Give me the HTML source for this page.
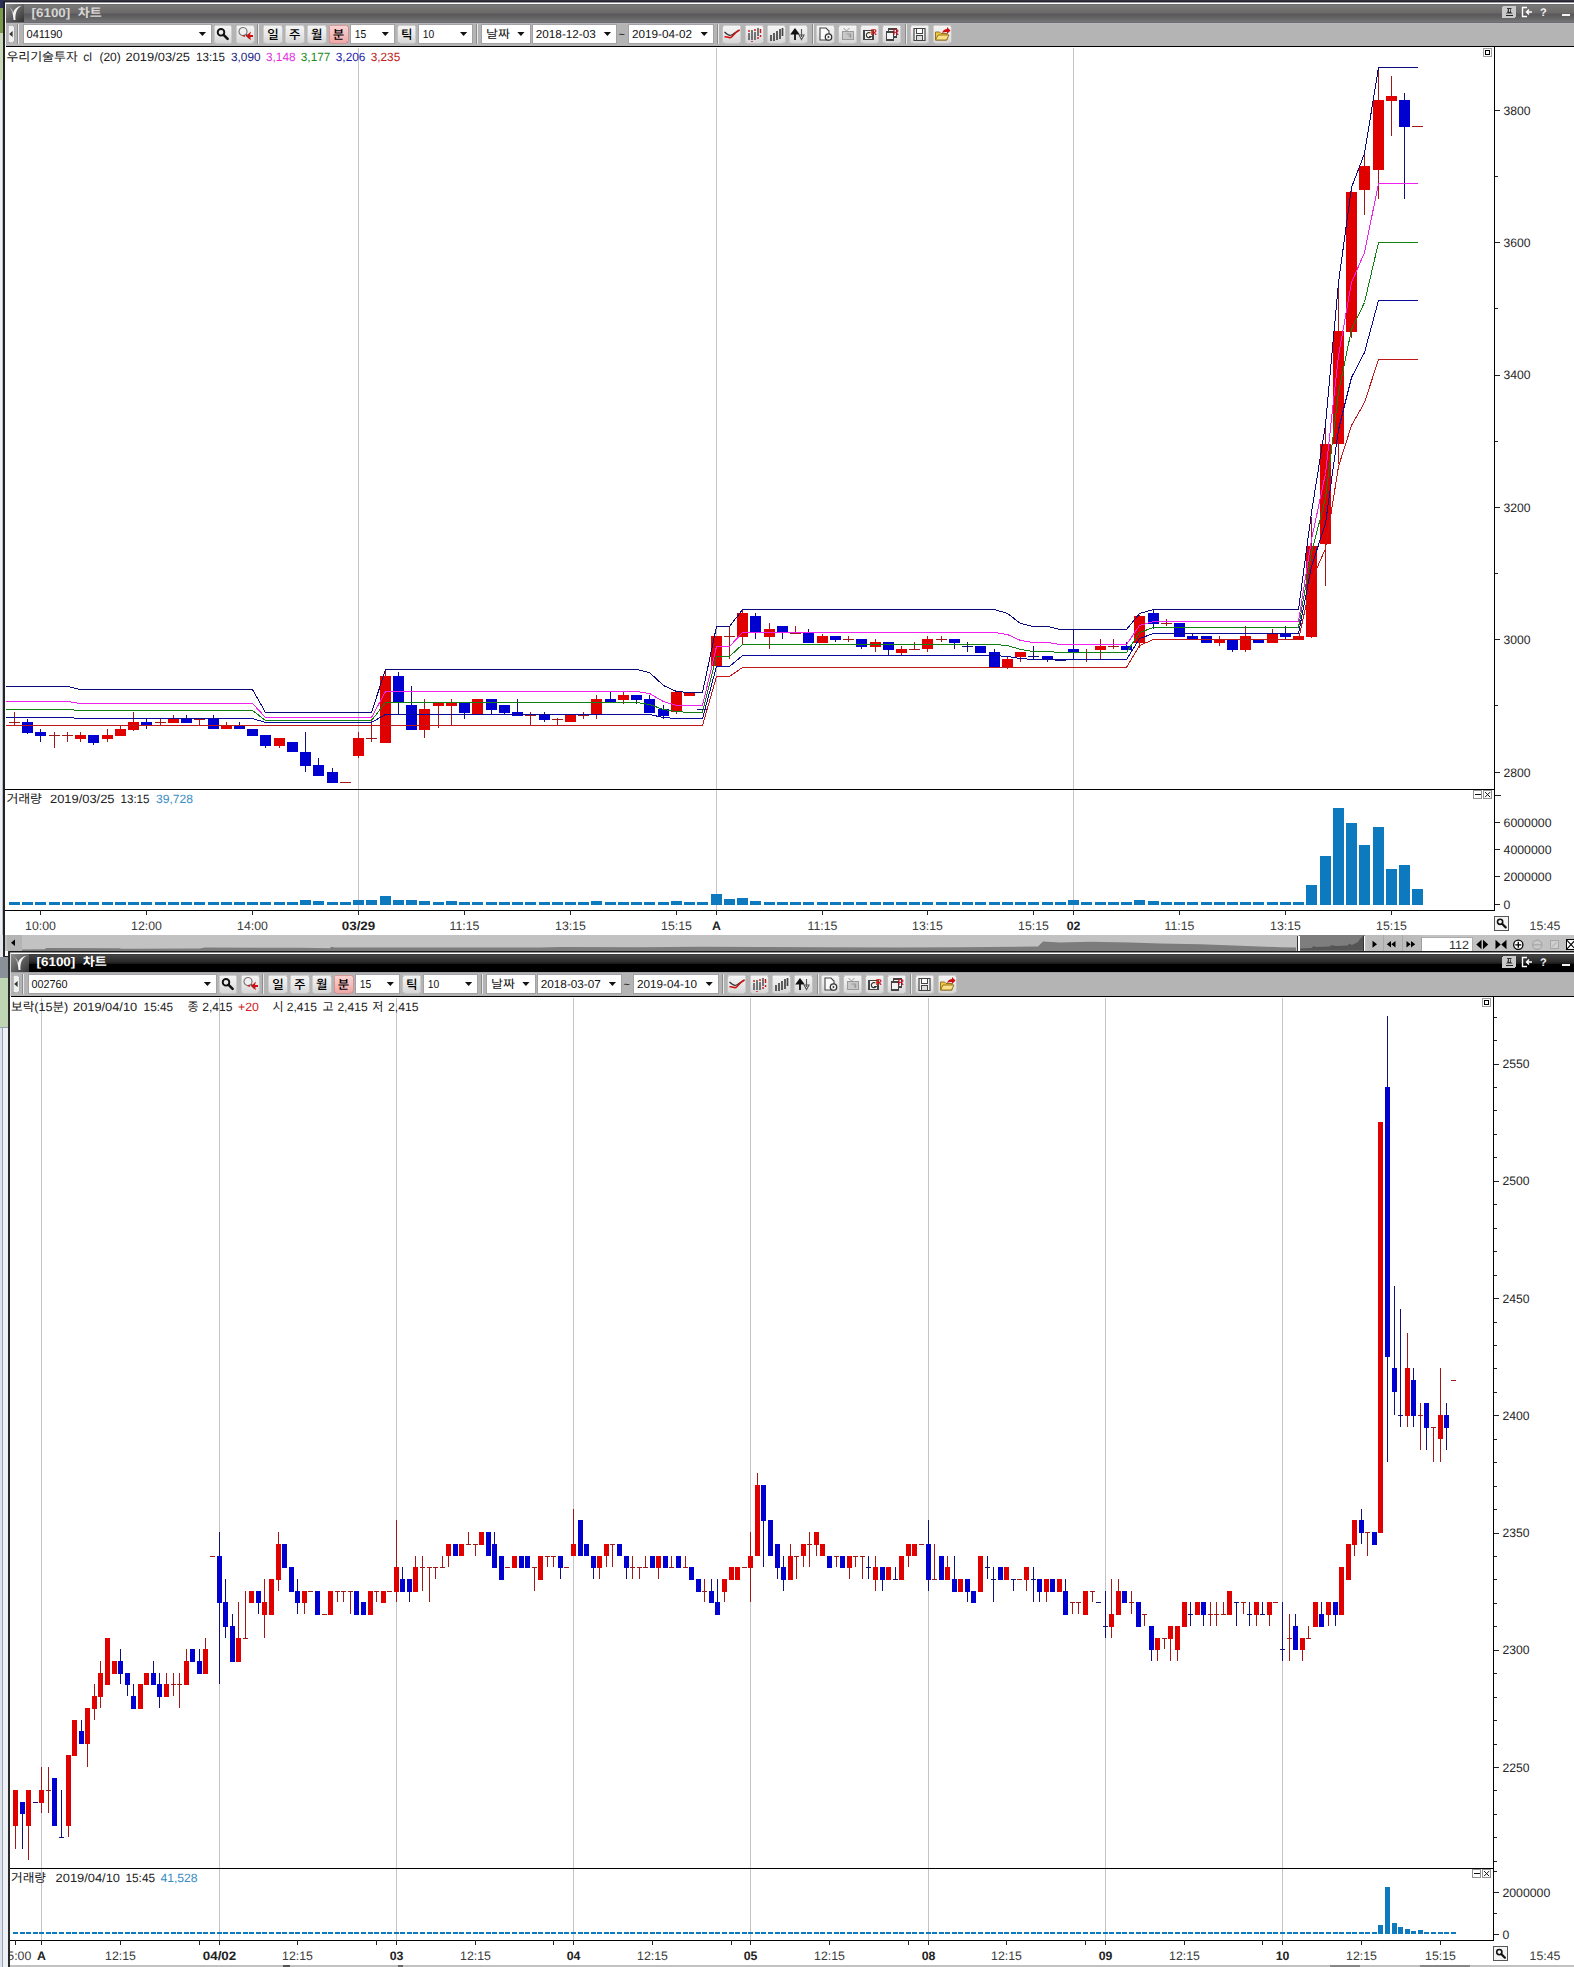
<!DOCTYPE html>
<html lang="ko"><head><meta charset="utf-8"><title>[6100] 차트</title>
<style>
html,body{margin:0;padding:0;background:#fff}
body{width:1574px;height:1967px;overflow:hidden}
svg{display:block}
.t{font-family:"Liberation Sans","Noto Sans CJK KR","NanumGothic",sans-serif}
.g{font-family:"Liberation Sans","Noto Sans CJK KR","NanumGothic",sans-serif}
path,circle{shape-rendering:geometricPrecision}
.e{shape-rendering:crispEdges}
</style></head><body>
<svg width="1574" height="1967" viewBox="0 0 1574 1967" font-size="12" shape-rendering="crispEdges" text-rendering="geometricPrecision">
<rect x="0.00" y="0.00" width="1574.00" height="1967.00" fill="#ffffff"/>
<rect x="0.00" y="0.00" width="1574.00" height="1.00" fill="#35353f"/>
<rect x="0.00" y="1.00" width="1574.00" height="1.00" fill="#23232b"/>
<rect x="0.00" y="2.00" width="1574.00" height="1.00" fill="#9c9ca2"/>
<rect x="0.00" y="3.00" width="1574.00" height="1.00" fill="#fff"/>
<rect x="0.00" y="0.00" width="3.00" height="8.00" fill="#2b2f5e"/>
<rect x="0.00" y="8.00" width="3.00" height="25.00" fill="#7a9a4a"/>
<rect x="0.00" y="33.00" width="3.00" height="47.00" fill="#c8d8b8"/>
<rect x="0.00" y="80.00" width="3.00" height="855.00" fill="#eef2f6"/>
<rect x="2.00" y="80.00" width="1.00" height="855.00" fill="#b4bcc8"/>
<rect x="0.00" y="935.00" width="3.00" height="22.00" fill="#e4e8ee"/>
<rect x="0.00" y="957.00" width="8.00" height="21.00" fill="#8a9098"/>
<rect x="0.00" y="978.00" width="8.00" height="50.00" fill="#bfd6b4"/>
<rect x="0.00" y="1028.00" width="8.00" height="939.00" fill="#eef2f6"/>
<rect x="0.00" y="1028.00" width="2.00" height="939.00" fill="#dde4ec"/>
<rect x="2.00" y="1028.00" width="1.00" height="939.00" fill="#98a2b0"/>
<rect x="0.00" y="1027.00" width="8.00" height="1.00" fill="#98a2b0"/>
<defs>
<linearGradient id="g1" x1="0" y1="0" x2="0" y2="1"><stop offset="0" stop-color="#6a6a6c"/><stop offset=".08" stop-color="#777"/><stop offset=".45" stop-color="#6c6a68"/><stop offset=".5" stop-color="#636163"/><stop offset=".55" stop-color="#5a585a"/><stop offset=".71" stop-color="#626262"/><stop offset=".92" stop-color="#747478"/><stop offset="1" stop-color="#66666c"/></linearGradient>
<linearGradient id="g2" x1="0" y1="0" x2="0" y2="1"><stop offset="0" stop-color="#3a3a3a"/><stop offset=".08" stop-color="#424242"/><stop offset=".2" stop-color="#3a3a3a"/><stop offset=".42" stop-color="#2a2a2a"/><stop offset=".52" stop-color="#1e1e1e"/><stop offset=".57" stop-color="#000"/><stop offset="1" stop-color="#000"/></linearGradient>
<linearGradient id="lg" x1="0" y1="0" x2="1" y2="1"><stop offset="0" stop-color="#8e8e8e"/><stop offset="1" stop-color="#333"/></linearGradient>
<linearGradient id="bt" x1="0" y1="0" x2="0" y2="1"><stop offset="0" stop-color="#f6f6f6"/><stop offset=".5" stop-color="#e9e9e9"/><stop offset="1" stop-color="#d6d6d6"/></linearGradient>
<linearGradient id="pk" x1="0" y1="0" x2="0" y2="1"><stop offset="0" stop-color="#fbd5d5"/><stop offset="1" stop-color="#f0a6a6"/></linearGradient>
</defs>
<rect x="3.00" y="2.00" width="2.00" height="955.00" fill="#222"/>
<rect x="5.00" y="4.00" width="1.00" height="43.00" fill="#f4f4f4"/>
<rect x="3.00" y="956.00" width="6.00" height="1.00" fill="#222"/>
<rect x="6.00" y="4.00" width="1568.00" height="19.00" fill="url(#g1)"/>
<g transform="translate(6,4)"><rect width="18" height="18" fill="url(#lg)"/><path d="M2 3 C5 3 7 8 7.5 16 L9.5 16 C9 9 11 4 16 1.5 C11 2.5 8 5 7 9 C6.5 6 5 3.5 2 3Z" fill="#fff" opacity=".92"/></g>
<text class="t" x="31.5" y="17.0" fill="#d6d6d6" font-size="12.6" font-weight="bold" textLength="38.8" lengthAdjust="spacingAndGlyphs">[6100]</text>
<text class="t" x="77.7" y="17.0" fill="#d6d6d6" font-size="12.4" font-weight="bold" textLength="24.0" lengthAdjust="spacingAndGlyphs">차트</text>
<rect x="1502.00" y="6.00" width="14.00" height="12.00" fill="#c9c9c9" rx="2"/>
<path d="M1507 8h4.5v1h-1l.6 3.2l1.6 1.3h-6.9l1.6-1.3l.6-3.2h-1z" fill="#333"/><rect x="1508.6" y="9" width="1.3" height="3" fill="#c9c9c9"/><rect x="1505.5" y="15" width="7.5" height="1" fill="#222"/>
<path d="M1527 7.5h-4.5v9h4.5M1532 12h-5M1529 9.5l-2.5 2.5l2.5 2.5" stroke="#fff" stroke-width="1.4" fill="none"/>
<text class="t" x="1540.0" y="16.0" fill="#f4f4f4" font-size="11" font-weight="bold">?</text>
<rect x="1562.00" y="13.70" width="8.00" height="2.30" fill="#f4f4f4"/>
<rect x="6.00" y="23.00" width="1568.00" height="23.50" fill="#b4b4b4"/>
<rect x="6.00" y="23.00" width="1568.00" height="1.00" fill="#b9b9bb"/>
<rect x="6.00" y="46.00" width="1568.00" height="1.00" fill="#000"/>
<rect x="8.0" y="25" width="6" height="17.5" rx="1.5" fill="#f0f0f0" stroke="#9c9ca4" stroke-width=".6"/>
<path d="M12.6 31v6l-3.4-3z" fill="#333"/>
<rect x="18.30" y="24.00" width="1.00" height="20.00" fill="#e8e8e8"/>
<rect x="17.30" y="24.00" width="1.00" height="20.00" fill="#8c8c8c"/>
<rect x="23.00" y="24.00" width="189.00" height="19.60" fill="#a2a2a6"/>
<rect x="24.00" y="25.00" width="187.00" height="18.00" fill="#fff"/>
<text class="g" x="26.5" y="38.3" fill="#111" font-size="11.5" textLength="36.0" lengthAdjust="spacingAndGlyphs">041190</text>
<path d="M198.8 32.1h7.2l-3.6 4z" fill="#111"/>
<rect x="214.0" y="25" width="17.5" height="18" rx="2" fill="url(#bt)" stroke="#c4c4c4" stroke-width=".8"/>
<g transform="translate(214,25)"><circle cx="7" cy="7.3" r="3.3" fill="none" stroke="#111" stroke-width="1.9"/><path d="M9.6 9.9l4 4" stroke="#111" stroke-width="2.6" stroke-linecap="round"/></g>
<rect x="236.0" y="25" width="18.0" height="18" rx="2" fill="url(#bt)" stroke="#c4c4c4" stroke-width=".8"/>
<g transform="translate(236,25)"><circle cx="7" cy="6.5" r="4" fill="#f0f0f0" stroke="#777" stroke-width="1.2"/><path d="M10 9.5l4 4" stroke="#555" stroke-width="2"/><path d="M15 6.5l-5 4.5l5 4.2l-1-3.2h3v-2h-3z" fill="#d01010"/><path d="M9 12l-3-1 2.5-1.5z" fill="#d01010"/></g>
<rect x="257.00" y="24.00" width="1.00" height="20.00" fill="#8c8c8c"/>
<rect x="258.30" y="24.00" width="1.00" height="20.00" fill="#e8e8e8"/>
<rect x="263.4" y="25" width="19.0" height="18" rx="2" fill="url(#bt)" stroke="#c4c4c4" stroke-width=".8"/>
<text class="g" x="272.9" y="38.8" fill="#000" font-size="12.5" font-weight="500" text-anchor="middle">일</text>
<rect x="285.3" y="25" width="19.0" height="18" rx="2" fill="url(#bt)" stroke="#c4c4c4" stroke-width=".8"/>
<text class="g" x="294.8" y="38.8" fill="#000" font-size="12.5" font-weight="500" text-anchor="middle">주</text>
<rect x="307.2" y="25" width="19.0" height="18" rx="2" fill="url(#bt)" stroke="#c4c4c4" stroke-width=".8"/>
<text class="g" x="316.7" y="38.8" fill="#000" font-size="12.5" font-weight="500" text-anchor="middle">월</text>
<rect x="329.1" y="25" width="19.0" height="18" rx="2" fill="url(#pk)" stroke="#d08a8a" stroke-width=".8"/>
<text class="g" x="338.6" y="38.8" fill="#000" font-size="12.5" font-weight="500" text-anchor="middle">분</text>
<rect x="349.70" y="24.00" width="45.20" height="19.60" fill="#a2a2a6"/>
<rect x="350.70" y="25.00" width="43.20" height="18.00" fill="#fff"/>
<text class="g" x="354.7" y="38.3" fill="#111" font-size="11.5" textLength="11.5" lengthAdjust="spacingAndGlyphs">15</text>
<path d="M381.7 32.1h7.2l-3.6 4z" fill="#111"/>
<rect x="397.7" y="25" width="18.2" height="18" rx="2" fill="url(#bt)" stroke="#c4c4c4" stroke-width=".8"/>
<text class="g" x="406.8" y="38.8" fill="#000" font-size="12.5" font-weight="500" text-anchor="middle">틱</text>
<rect x="417.70" y="24.00" width="55.50" height="19.60" fill="#a2a2a6"/>
<rect x="418.70" y="25.00" width="53.50" height="18.00" fill="#fff"/>
<text class="g" x="422.7" y="38.3" fill="#111" font-size="11.5" textLength="11.5" lengthAdjust="spacingAndGlyphs">10</text>
<path d="M460.0 32.1h7.2l-3.6 4z" fill="#111"/>
<rect x="475.50" y="24.00" width="1.00" height="20.00" fill="#8c8c8c"/>
<rect x="476.80" y="24.00" width="1.00" height="20.00" fill="#e8e8e8"/>
<rect x="481.00" y="24.00" width="49.50" height="19.60" fill="#a2a2a6"/>
<rect x="482.00" y="25.00" width="47.50" height="18.00" fill="#fff"/>
<text class="g" x="486.0" y="38.3" fill="#111" font-size="11.5" textLength="24.0" lengthAdjust="spacingAndGlyphs">날짜</text>
<path d="M517.3 32.1h7.2l-3.6 4z" fill="#111"/>
<rect x="531.80" y="24.00" width="85.20" height="19.60" fill="#a2a2a6"/>
<rect x="532.80" y="25.00" width="83.20" height="18.00" fill="#fff"/>
<text class="g" x="535.8" y="38.3" fill="#111" font-size="11.5" textLength="60.0" lengthAdjust="spacingAndGlyphs">2018-12-03</text>
<path d="M603.8 32.1h7.2l-3.6 4z" fill="#111"/>
<text class="g" x="618.5" y="38.0" fill="#222" font-size="11">~</text>
<rect x="628.00" y="24.00" width="85.80" height="19.60" fill="#a2a2a6"/>
<rect x="629.00" y="25.00" width="83.80" height="18.00" fill="#fff"/>
<text class="g" x="632.0" y="38.3" fill="#111" font-size="11.5" textLength="60.0" lengthAdjust="spacingAndGlyphs">2019-04-02</text>
<path d="M700.6 32.1h7.2l-3.6 4z" fill="#111"/>
<rect x="717.00" y="24.00" width="1.00" height="20.00" fill="#8c8c8c"/>
<rect x="718.30" y="24.00" width="1.00" height="20.00" fill="#e8e8e8"/>
<rect x="722.5" y="25" width="18.2" height="18" rx="2" fill="url(#bt)" stroke="#c4c4c4" stroke-width=".8"/>
<g transform="translate(722.5,25)"><path d="M2 7c3 3 5 4 7 3s5-4 8-5" stroke="#333" stroke-width="1.2" fill="none"/><path d="M2 12c3-1 5 2 7 0s4-5 8-7" stroke="#d01010" stroke-width="1.6" fill="none"/></g>
<rect x="745.0" y="25" width="18.2" height="18" rx="2" fill="url(#bt)" stroke="#c4c4c4" stroke-width=".8"/>
<g transform="translate(745.0,25)"><path d="M4 8v7M7 5v10M10 7v8M13 3v8" stroke="#444" stroke-width="1.4"/><path d="M4 5v2M7 16v1M10 4v2M13 12v2M15.5 4v4M15.5 10v2" stroke="#d01010" stroke-width="1.4"/></g>
<rect x="767.0" y="25" width="18.2" height="18" rx="2" fill="url(#bt)" stroke="#c4c4c4" stroke-width=".8"/>
<g transform="translate(767.0,25)"><path d="M4 10v6M7 8v8M10 6v9M13 4v10M15.5 3v8" stroke="#444" stroke-width="1.7"/></g>
<rect x="789.0" y="25" width="18.2" height="18" rx="2" fill="url(#bt)" stroke="#c4c4c4" stroke-width=".8"/>
<g transform="translate(789.0,25)"><path d="M6 15V6M3 8.5L6 4.5 9 8.5z" stroke="#111" stroke-width="1.8" fill="#111"/><path d="M12.5 4v8M10 10l2.5 4.5L15 10z" stroke="#555" stroke-width="1.1" fill="#eee"/></g>
<rect x="816.0" y="25" width="18.2" height="18" rx="2" fill="url(#bt)" stroke="#c4c4c4" stroke-width=".8"/>
<g transform="translate(816.0,25)"><path d="M4 3h6l3 3v9H4z" fill="#fafafa" stroke="#444" stroke-width="1.1"/><circle cx="12.5" cy="12" r="3.2" fill="#fafafa" stroke="#333" stroke-width="1.3"/><path d="M11.7 10.6v2.8l2.2-1.4z" fill="#333"/></g>
<rect x="838.5" y="25" width="18.2" height="18" rx="2" fill="url(#bt)" stroke="#c4c4c4" stroke-width=".8"/>
<g transform="translate(838.5,25)"><path d="M5 3l3 3 3-3" stroke="#9a9a9a" fill="none"/><rect x="3.5" y="6" width="11" height="8" fill="#c8c8c8" stroke="#9a9a9a"/><path d="M8 9h4v4M10 11h3" stroke="#999" stroke-width="1.2" fill="none"/></g>
<rect x="860.5" y="25" width="18.2" height="18" rx="2" fill="url(#bt)" stroke="#c4c4c4" stroke-width=".8"/>
<g transform="translate(860.5,25)"><rect x="3.5" y="5.5" width="9" height="9" fill="#f4f4f4" stroke="#444" stroke-width="1.1"/><path d="M10 8a2.6 2.6 0 1 0 .6 3.6h-2" stroke="#333" stroke-width="1.2" fill="none"/><text x="10.2" y="9.8" font-size="8.5" font-weight="bold" fill="#d01010" class="t">R</text></g>
<rect x="882.6" y="25" width="18.2" height="18" rx="2" fill="url(#bt)" stroke="#c4c4c4" stroke-width=".8"/>
<g transform="translate(882.6,25)"><rect x="6" y="4" width="7.5" height="8" fill="#f4f4f4" stroke="#444" stroke-width="1.1"/><rect x="3.5" y="7" width="7.5" height="8" fill="#f4f4f4" stroke="#444" stroke-width="1.1"/><text x="10.2" y="9.8" font-size="8.5" font-weight="bold" fill="#d01010" class="t">R</text></g>
<rect x="910.5" y="25" width="18.2" height="18" rx="2" fill="url(#bt)" stroke="#c4c4c4" stroke-width=".8"/>
<g transform="translate(910.5,25)"><path d="M3.5 3.5h11v12h-11z" fill="#f4f4f4" stroke="#444" stroke-width="1.2"/><rect x="6" y="3.5" width="6" height="4.5" fill="#fff" stroke="#444" stroke-width="1"/><rect x="6" y="10.5" width="6" height="5" fill="#ddd" stroke="#444" stroke-width="1"/></g>
<rect x="933.0" y="25" width="18.2" height="18" rx="2" fill="url(#bt)" stroke="#c4c4c4" stroke-width=".8"/>
<g transform="translate(933.0,25)"><path d="M2.5 15V7h4l1.5 1.5h6V15z" fill="#f2c744" stroke="#8a6a10" stroke-width=".9"/><path d="M2.5 15l2.5-5h11l-2.5 5z" fill="#fbe08a" stroke="#8a6a10" stroke-width=".9"/><path d="M9 8c1-3 3-4 5-4V2l3.5 3.5L14 9V7c-2 0-3.5 0-5 1z" fill="#d01010"/></g>
<rect x="811.60" y="24.00" width="1.00" height="20.00" fill="#8c8c8c"/>
<rect x="812.90" y="24.00" width="1.00" height="20.00" fill="#e8e8e8"/>
<rect x="905.00" y="24.00" width="1.00" height="20.00" fill="#8c8c8c"/>
<rect x="906.30" y="24.00" width="1.00" height="20.00" fill="#e8e8e8"/>
<line x1="358.50" y1="47.50" x2="358.50" y2="910.00" stroke="#c4c4c4" stroke-width="1"/>
<line x1="716.50" y1="47.50" x2="716.50" y2="910.00" stroke="#c4c4c4" stroke-width="1"/>
<line x1="1073.50" y1="47.50" x2="1073.50" y2="910.00" stroke="#c4c4c4" stroke-width="1"/>
<rect x="4.50" y="789.00" width="1490.00" height="1.20" fill="#000"/>
<rect x="4.50" y="909.50" width="1490.60" height="1.30" fill="#000"/>
<rect x="1493.90" y="46.00" width="1.30" height="864.80" fill="#000"/>
<rect x="14.00" y="712.40" width="1.00" height="12.60" fill="#a01818"/>
<rect x="9.00" y="722.00" width="11.00" height="1.00" fill="#a01818"/>
<rect x="27.00" y="719.00" width="1.00" height="15.40" fill="#101078"/>
<rect x="22.00" y="722.00" width="11.00" height="10.60" fill="#0000d0"/>
<rect x="40.00" y="729.00" width="1.00" height="12.60" fill="#101078"/>
<rect x="35.00" y="732.00" width="11.00" height="3.60" fill="#0000d0"/>
<rect x="54.00" y="732.40" width="1.00" height="15.20" fill="#a01818"/>
<rect x="49.00" y="735.00" width="11.00" height="1.00" fill="#a01818"/>
<rect x="67.00" y="732.00" width="1.00" height="9.60" fill="#a01818"/>
<rect x="62.00" y="735.00" width="11.00" height="1.00" fill="#a01818"/>
<rect x="80.00" y="732.40" width="1.00" height="9.20" fill="#a01818"/>
<rect x="75.00" y="735.40" width="11.00" height="3.20" fill="#e00000"/>
<rect x="93.00" y="735.40" width="1.00" height="9.20" fill="#101078"/>
<rect x="88.00" y="735.40" width="11.00" height="7.20" fill="#0000d0"/>
<rect x="107.00" y="729.40" width="1.00" height="12.20" fill="#a01818"/>
<rect x="102.00" y="735.40" width="11.00" height="3.20" fill="#e00000"/>
<rect x="120.00" y="726.00" width="1.00" height="9.60" fill="#a01818"/>
<rect x="115.00" y="729.20" width="11.00" height="6.40" fill="#e00000"/>
<rect x="133.00" y="712.00" width="1.00" height="19.40" fill="#a01818"/>
<rect x="128.00" y="722.20" width="11.00" height="7.40" fill="#e00000"/>
<rect x="146.00" y="719.00" width="1.00" height="9.60" fill="#101078"/>
<rect x="141.00" y="722.20" width="11.00" height="3.00" fill="#0000d0"/>
<rect x="160.00" y="719.00" width="1.00" height="6.00" fill="#a01818"/>
<rect x="155.00" y="722.00" width="11.00" height="1.00" fill="#a01818"/>
<rect x="173.00" y="715.40" width="1.00" height="7.20" fill="#a01818"/>
<rect x="168.00" y="718.80" width="11.00" height="3.80" fill="#e00000"/>
<rect x="186.00" y="715.20" width="1.00" height="7.40" fill="#101078"/>
<rect x="181.00" y="718.80" width="11.00" height="3.80" fill="#0000d0"/>
<rect x="199.00" y="719.00" width="1.00" height="6.20" fill="#a01818"/>
<rect x="194.00" y="719.00" width="11.00" height="1.00" fill="#a01818"/>
<rect x="213.00" y="715.20" width="1.00" height="14.20" fill="#101078"/>
<rect x="208.00" y="718.80" width="11.00" height="10.60" fill="#0000d0"/>
<rect x="226.00" y="722.20" width="1.00" height="7.20" fill="#a01818"/>
<rect x="221.00" y="725.60" width="11.00" height="3.80" fill="#e00000"/>
<rect x="239.00" y="722.20" width="1.00" height="7.20" fill="#101078"/>
<rect x="234.00" y="725.60" width="11.00" height="3.80" fill="#0000d0"/>
<rect x="252.00" y="729.20" width="1.00" height="6.40" fill="#101078"/>
<rect x="247.00" y="729.20" width="11.00" height="6.40" fill="#0000d0"/>
<rect x="265.00" y="735.20" width="1.00" height="12.40" fill="#101078"/>
<rect x="260.00" y="735.20" width="11.00" height="10.40" fill="#0000d0"/>
<rect x="279.00" y="738.40" width="1.00" height="9.20" fill="#a01818"/>
<rect x="274.00" y="738.40" width="11.00" height="7.20" fill="#e00000"/>
<rect x="292.00" y="742.20" width="1.00" height="10.20" fill="#101078"/>
<rect x="287.00" y="742.20" width="11.00" height="10.20" fill="#0000d0"/>
<rect x="305.00" y="732.00" width="1.00" height="39.60" fill="#101078"/>
<rect x="300.00" y="752.20" width="11.00" height="13.40" fill="#0000d0"/>
<rect x="318.00" y="758.40" width="1.00" height="17.20" fill="#101078"/>
<rect x="313.00" y="765.00" width="11.00" height="10.60" fill="#0000d0"/>
<rect x="332.00" y="768.00" width="1.00" height="14.60" fill="#101078"/>
<rect x="327.00" y="772.00" width="11.00" height="10.60" fill="#0000d0"/>
<rect x="340.00" y="782.00" width="11.00" height="1.00" fill="#a01818"/>
<rect x="358.00" y="731.60" width="1.00" height="26.40" fill="#a01818"/>
<rect x="353.00" y="738.00" width="11.00" height="17.60" fill="#e00000"/>
<rect x="371.00" y="719.00" width="1.00" height="22.60" fill="#a01818"/>
<rect x="366.00" y="738.00" width="11.00" height="1.00" fill="#a01818"/>
<rect x="385.00" y="670.00" width="1.00" height="72.60" fill="#a01818"/>
<rect x="380.00" y="676.00" width="11.00" height="66.60" fill="#e00000"/>
<rect x="398.00" y="672.00" width="1.00" height="42.00" fill="#101078"/>
<rect x="393.00" y="676.00" width="11.00" height="27.00" fill="#0000d0"/>
<rect x="411.00" y="686.00" width="1.00" height="43.60" fill="#101078"/>
<rect x="406.00" y="705.00" width="11.00" height="24.60" fill="#0000d0"/>
<rect x="424.00" y="699.00" width="1.00" height="38.60" fill="#a01818"/>
<rect x="419.00" y="709.00" width="11.00" height="20.60" fill="#e00000"/>
<rect x="438.00" y="702.40" width="1.00" height="26.00" fill="#a01818"/>
<rect x="433.00" y="702.40" width="11.00" height="3.20" fill="#e00000"/>
<rect x="451.00" y="699.00" width="1.00" height="26.60" fill="#a01818"/>
<rect x="446.00" y="702.40" width="11.00" height="3.20" fill="#e00000"/>
<rect x="464.00" y="702.40" width="1.00" height="16.20" fill="#101078"/>
<rect x="459.00" y="702.40" width="11.00" height="10.20" fill="#0000d0"/>
<rect x="477.00" y="699.00" width="1.00" height="16.20" fill="#a01818"/>
<rect x="472.00" y="699.00" width="11.00" height="16.20" fill="#e00000"/>
<rect x="491.00" y="699.00" width="1.00" height="15.00" fill="#101078"/>
<rect x="486.00" y="699.00" width="11.00" height="10.60" fill="#0000d0"/>
<rect x="504.00" y="705.40" width="1.00" height="8.60" fill="#101078"/>
<rect x="499.00" y="705.40" width="11.00" height="7.20" fill="#0000d0"/>
<rect x="517.00" y="699.00" width="1.00" height="16.60" fill="#101078"/>
<rect x="512.00" y="712.20" width="11.00" height="3.40" fill="#0000d0"/>
<rect x="530.00" y="712.20" width="1.00" height="13.40" fill="#a01818"/>
<rect x="525.00" y="715.00" width="11.00" height="1.00" fill="#a01818"/>
<rect x="544.00" y="712.20" width="1.00" height="9.40" fill="#101078"/>
<rect x="539.00" y="714.40" width="11.00" height="5.20" fill="#0000d0"/>
<rect x="557.00" y="718.00" width="1.00" height="7.60" fill="#a01818"/>
<rect x="552.00" y="719.00" width="11.00" height="1.00" fill="#a01818"/>
<rect x="570.00" y="715.20" width="1.00" height="7.20" fill="#a01818"/>
<rect x="565.00" y="715.20" width="11.00" height="7.20" fill="#e00000"/>
<rect x="583.00" y="712.20" width="1.00" height="6.40" fill="#a01818"/>
<rect x="578.00" y="715.00" width="11.00" height="1.00" fill="#a01818"/>
<rect x="596.00" y="695.00" width="1.00" height="23.60" fill="#a01818"/>
<rect x="591.00" y="699.00" width="11.00" height="16.20" fill="#e00000"/>
<rect x="610.00" y="691.60" width="1.00" height="11.40" fill="#101078"/>
<rect x="605.00" y="699.00" width="11.00" height="4.00" fill="#0000d0"/>
<rect x="623.00" y="692.00" width="1.00" height="12.40" fill="#a01818"/>
<rect x="618.00" y="695.40" width="11.00" height="4.20" fill="#e00000"/>
<rect x="636.00" y="695.40" width="1.00" height="9.00" fill="#101078"/>
<rect x="631.00" y="695.40" width="11.00" height="4.20" fill="#0000d0"/>
<rect x="649.00" y="695.40" width="1.00" height="17.20" fill="#101078"/>
<rect x="644.00" y="699.00" width="11.00" height="13.60" fill="#0000d0"/>
<rect x="663.00" y="705.00" width="1.00" height="13.60" fill="#101078"/>
<rect x="658.00" y="709.40" width="11.00" height="6.60" fill="#0000d0"/>
<rect x="676.00" y="692.40" width="1.00" height="22.00" fill="#a01818"/>
<rect x="671.00" y="692.40" width="11.00" height="19.60" fill="#e00000"/>
<rect x="689.00" y="693.00" width="1.00" height="2.60" fill="#a01818"/>
<rect x="684.00" y="693.00" width="11.00" height="2.60" fill="#e00000"/>
<rect x="697.00" y="709.00" width="11.00" height="1.00" fill="#101078"/>
<rect x="716.00" y="636.40" width="1.00" height="30.00" fill="#a01818"/>
<rect x="711.00" y="636.40" width="11.00" height="30.00" fill="#e00000"/>
<rect x="729.00" y="627.00" width="1.00" height="31.60" fill="#a01818"/>
<rect x="724.00" y="636.00" width="11.00" height="1.00" fill="#a01818"/>
<rect x="742.00" y="610.00" width="1.00" height="34.40" fill="#a01818"/>
<rect x="737.00" y="613.00" width="11.00" height="23.60" fill="#e00000"/>
<rect x="755.00" y="613.00" width="1.00" height="26.00" fill="#101078"/>
<rect x="750.00" y="616.00" width="11.00" height="17.00" fill="#0000d0"/>
<rect x="769.00" y="623.00" width="1.00" height="26.00" fill="#a01818"/>
<rect x="764.00" y="629.00" width="11.00" height="7.60" fill="#e00000"/>
<rect x="782.00" y="626.00" width="1.00" height="13.00" fill="#101078"/>
<rect x="777.00" y="626.00" width="11.00" height="7.00" fill="#0000d0"/>
<rect x="795.00" y="626.00" width="1.00" height="7.00" fill="#a01818"/>
<rect x="790.00" y="633.00" width="11.00" height="1.00" fill="#a01818"/>
<rect x="808.00" y="629.00" width="1.00" height="13.60" fill="#101078"/>
<rect x="803.00" y="633.00" width="11.00" height="9.60" fill="#0000d0"/>
<rect x="822.00" y="633.60" width="1.00" height="9.00" fill="#a01818"/>
<rect x="817.00" y="636.00" width="11.00" height="6.60" fill="#e00000"/>
<rect x="835.00" y="636.00" width="1.00" height="5.60" fill="#101078"/>
<rect x="830.00" y="636.00" width="11.00" height="3.60" fill="#0000d0"/>
<rect x="848.00" y="636.00" width="1.00" height="5.60" fill="#a01818"/>
<rect x="843.00" y="639.00" width="11.00" height="1.00" fill="#a01818"/>
<rect x="861.00" y="639.00" width="1.00" height="9.60" fill="#101078"/>
<rect x="856.00" y="639.00" width="11.00" height="7.60" fill="#0000d0"/>
<rect x="875.00" y="639.00" width="1.00" height="12.60" fill="#a01818"/>
<rect x="870.00" y="642.40" width="11.00" height="4.20" fill="#e00000"/>
<rect x="888.00" y="642.40" width="1.00" height="13.60" fill="#101078"/>
<rect x="883.00" y="642.40" width="11.00" height="7.20" fill="#0000d0"/>
<rect x="901.00" y="646.00" width="1.00" height="10.00" fill="#a01818"/>
<rect x="896.00" y="649.40" width="11.00" height="3.20" fill="#e00000"/>
<rect x="914.00" y="642.40" width="1.00" height="7.00" fill="#a01818"/>
<rect x="909.00" y="649.00" width="11.00" height="1.00" fill="#a01818"/>
<rect x="927.00" y="636.00" width="1.00" height="15.60" fill="#a01818"/>
<rect x="922.00" y="639.40" width="11.00" height="10.00" fill="#e00000"/>
<rect x="941.00" y="636.00" width="1.00" height="6.00" fill="#a01818"/>
<rect x="936.00" y="639.00" width="11.00" height="1.00" fill="#a01818"/>
<rect x="954.00" y="639.40" width="1.00" height="9.20" fill="#101078"/>
<rect x="949.00" y="639.40" width="11.00" height="3.20" fill="#0000d0"/>
<rect x="967.00" y="642.40" width="1.00" height="9.20" fill="#101078"/>
<rect x="962.00" y="646.00" width="11.00" height="1.00" fill="#101078"/>
<rect x="980.00" y="646.00" width="1.00" height="6.60" fill="#101078"/>
<rect x="975.00" y="646.00" width="11.00" height="6.60" fill="#0000d0"/>
<rect x="994.00" y="649.40" width="1.00" height="17.60" fill="#101078"/>
<rect x="989.00" y="652.00" width="11.00" height="15.00" fill="#0000d0"/>
<rect x="1007.00" y="656.40" width="1.00" height="12.60" fill="#a01818"/>
<rect x="1002.00" y="659.40" width="11.00" height="8.00" fill="#e00000"/>
<rect x="1020.00" y="652.00" width="1.00" height="9.60" fill="#a01818"/>
<rect x="1015.00" y="652.00" width="11.00" height="4.60" fill="#e00000"/>
<rect x="1033.00" y="646.00" width="1.00" height="13.40" fill="#101078"/>
<rect x="1028.00" y="656.00" width="11.00" height="1.00" fill="#101078"/>
<rect x="1047.00" y="656.40" width="1.00" height="5.20" fill="#101078"/>
<rect x="1042.00" y="656.40" width="11.00" height="3.00" fill="#0000d0"/>
<rect x="1055.00" y="660.00" width="11.00" height="1.00" fill="#101078"/>
<rect x="1073.00" y="629.40" width="1.00" height="30.00" fill="#101078"/>
<rect x="1068.00" y="649.40" width="11.00" height="2.60" fill="#0000d0"/>
<rect x="1086.00" y="649.40" width="1.00" height="12.20" fill="#a01818"/>
<rect x="1081.00" y="652.00" width="11.00" height="1.00" fill="#a01818"/>
<rect x="1100.00" y="639.00" width="1.00" height="19.60" fill="#a01818"/>
<rect x="1095.00" y="646.00" width="11.00" height="3.60" fill="#e00000"/>
<rect x="1113.00" y="639.00" width="1.00" height="9.60" fill="#a01818"/>
<rect x="1108.00" y="646.00" width="11.00" height="1.00" fill="#a01818"/>
<rect x="1126.00" y="642.40" width="1.00" height="7.20" fill="#101078"/>
<rect x="1121.00" y="646.00" width="11.00" height="3.60" fill="#0000d0"/>
<rect x="1139.00" y="615.00" width="1.00" height="33.40" fill="#a01818"/>
<rect x="1134.00" y="616.40" width="11.00" height="26.20" fill="#e00000"/>
<rect x="1153.00" y="609.40" width="1.00" height="19.20" fill="#101078"/>
<rect x="1148.00" y="613.00" width="11.00" height="10.60" fill="#0000d0"/>
<rect x="1166.00" y="619.00" width="1.00" height="6.60" fill="#a01818"/>
<rect x="1161.00" y="623.00" width="11.00" height="1.00" fill="#a01818"/>
<rect x="1179.00" y="623.00" width="1.00" height="13.60" fill="#101078"/>
<rect x="1174.00" y="623.00" width="11.00" height="13.60" fill="#0000d0"/>
<rect x="1192.00" y="633.60" width="1.00" height="5.40" fill="#101078"/>
<rect x="1187.00" y="636.00" width="11.00" height="3.00" fill="#0000d0"/>
<rect x="1206.00" y="636.00" width="1.00" height="6.60" fill="#101078"/>
<rect x="1201.00" y="636.00" width="11.00" height="6.60" fill="#0000d0"/>
<rect x="1219.00" y="636.00" width="1.00" height="9.60" fill="#a01818"/>
<rect x="1214.00" y="639.40" width="11.00" height="3.20" fill="#e00000"/>
<rect x="1232.00" y="640.00" width="1.00" height="11.60" fill="#101078"/>
<rect x="1227.00" y="640.00" width="11.00" height="9.60" fill="#0000d0"/>
<rect x="1245.00" y="626.00" width="1.00" height="25.60" fill="#a01818"/>
<rect x="1240.00" y="636.00" width="11.00" height="13.60" fill="#e00000"/>
<rect x="1258.00" y="640.00" width="1.00" height="2.60" fill="#101078"/>
<rect x="1253.00" y="640.00" width="11.00" height="2.60" fill="#0000d0"/>
<rect x="1272.00" y="629.00" width="1.00" height="13.60" fill="#a01818"/>
<rect x="1267.00" y="633.60" width="11.00" height="9.00" fill="#e00000"/>
<rect x="1285.00" y="626.00" width="1.00" height="13.00" fill="#101078"/>
<rect x="1280.00" y="633.00" width="11.00" height="3.60" fill="#0000d0"/>
<rect x="1298.00" y="636.00" width="1.00" height="3.60" fill="#a01818"/>
<rect x="1293.00" y="636.00" width="11.00" height="3.60" fill="#e00000"/>
<rect x="1311.00" y="517.00" width="1.00" height="121.40" fill="#a01818"/>
<rect x="1306.00" y="546.00" width="11.00" height="90.60" fill="#e00000"/>
<rect x="1325.00" y="420.00" width="1.00" height="166.00" fill="#a01818"/>
<rect x="1320.00" y="444.00" width="11.00" height="99.60" fill="#e00000"/>
<rect x="1338.00" y="284.00" width="1.00" height="180.00" fill="#a01818"/>
<rect x="1333.00" y="331.20" width="11.00" height="113.20" fill="#e00000"/>
<rect x="1351.00" y="188.50" width="1.00" height="149.50" fill="#a01818"/>
<rect x="1346.00" y="191.90" width="11.00" height="139.70" fill="#e00000"/>
<rect x="1364.00" y="154.00" width="1.00" height="60.50" fill="#a01818"/>
<rect x="1359.00" y="166.10" width="11.00" height="23.60" fill="#e00000"/>
<rect x="1378.00" y="70.50" width="1.00" height="128.10" fill="#a01818"/>
<rect x="1373.00" y="100.00" width="11.00" height="69.50" fill="#e00000"/>
<rect x="1391.00" y="76.20" width="1.00" height="59.40" fill="#a01818"/>
<rect x="1386.00" y="96.10" width="11.00" height="4.50" fill="#e00000"/>
<rect x="1404.00" y="93.30" width="1.00" height="105.30" fill="#101078"/>
<rect x="1399.00" y="100.00" width="11.00" height="26.80" fill="#0000d0"/>
<rect x="1412.00" y="126.00" width="11.00" height="1.00" fill="#a01818"/>
<path d="M5.5 686.5 L14.5 686.5 L27.5 686.5 L40.5 686.5 L54.5 686.5 L67.5 686.5 L80.5 689.5 L93.5 689.5 L107.5 689.5 L120.5 689.5 L133.5 689.5 L146.5 689.5 L160.5 689.5 L173.5 689.5 L186.5 689.5 L199.5 689.5 L213.5 689.5 L226.5 689.5 L239.5 689.5 L252.5 689.5 L265.5 712.5 L279.5 712.5 L292.5 712.5 L305.5 712.5 L318.5 712.5 L332.5 712.5 L345.5 712.5 L358.5 712.5 L371.5 712.5 L385.5 669.5 L398.5 669.5 L411.5 669.5 L424.5 669.5 L438.5 669.5 L451.5 669.5 L464.5 669.5 L477.5 669.5 L491.5 669.5 L504.5 669.5 L517.5 669.5 L530.5 669.5 L544.5 669.5 L557.5 669.5 L570.5 669.5 L583.5 669.5 L596.5 669.5 L610.5 669.5 L623.5 669.5 L636.5 669.5 L649.5 672.5 L663.5 685.5 L676.5 691.5 L689.5 692.5 L702.5 692.5 L716.5 626.5 L729.5 626.5 L742.5 609.5 L755.5 609.5 L769.5 609.5 L782.5 609.5 L795.5 609.5 L808.5 609.5 L822.5 609.5 L835.5 609.5 L848.5 609.5 L861.5 609.5 L875.5 609.5 L888.5 609.5 L901.5 609.5 L914.5 609.5 L927.5 609.5 L941.5 609.5 L954.5 609.5 L967.5 609.5 L980.5 609.5 L994.5 609.5 L1007.5 613.5 L1020.5 623.5 L1033.5 626.5 L1047.5 626.5 L1060.5 629.5 L1073.5 629.5 L1086.5 629.5 L1100.5 629.5 L1113.5 629.5 L1126.5 629.5 L1139.5 613.5 L1153.5 609.5 L1166.5 609.5 L1179.5 609.5 L1192.5 609.5 L1206.5 609.5 L1219.5 609.5 L1232.5 609.5 L1245.5 609.5 L1258.5 609.5 L1272.5 609.5 L1285.5 609.5 L1298.5 609.5 L1311.5 512.5 L1325.5 424.5 L1338.5 282.5 L1351.5 187.5 L1364.5 153.5 L1378.5 67.5 L1391.5 67.5 L1404.5 67.5 L1417.5 67.5" fill="none" stroke="#0a0a78" stroke-width="1" class="e"/>
<path d="M5.5 701.5 L14.5 701.5 L27.5 701.5 L40.5 701.5 L54.5 701.5 L67.5 701.5 L80.5 703.5 L93.5 703.5 L107.5 703.5 L120.5 703.5 L133.5 703.5 L146.5 703.5 L160.5 703.5 L173.5 703.5 L186.5 703.5 L199.5 703.5 L213.5 703.5 L226.5 703.5 L239.5 703.5 L252.5 703.5 L265.5 717.5 L279.5 717.5 L292.5 717.5 L305.5 717.5 L318.5 717.5 L332.5 717.5 L345.5 717.5 L358.5 717.5 L371.5 717.5 L385.5 691.5 L398.5 691.5 L411.5 691.5 L424.5 691.5 L438.5 691.5 L451.5 691.5 L464.5 691.5 L477.5 691.5 L491.5 691.5 L504.5 691.5 L517.5 691.5 L530.5 691.5 L544.5 691.5 L557.5 691.5 L570.5 691.5 L583.5 691.5 L596.5 691.5 L610.5 691.5 L623.5 691.5 L636.5 691.5 L649.5 693.5 L663.5 701.5 L676.5 705.5 L689.5 705.5 L702.5 705.5 L716.5 646.5 L729.5 646.5 L742.5 632.5 L755.5 632.5 L769.5 632.5 L782.5 632.5 L795.5 632.5 L808.5 632.5 L822.5 632.5 L835.5 632.5 L848.5 632.5 L861.5 632.5 L875.5 632.5 L888.5 632.5 L901.5 632.5 L914.5 632.5 L927.5 632.5 L941.5 632.5 L954.5 632.5 L967.5 632.5 L980.5 632.5 L994.5 632.5 L1007.5 634.5 L1020.5 640.5 L1033.5 642.5 L1047.5 642.5 L1060.5 644.5 L1073.5 644.5 L1086.5 644.5 L1100.5 644.5 L1113.5 644.5 L1126.5 644.5 L1139.5 625.5 L1153.5 621.5 L1166.5 621.5 L1179.5 621.5 L1192.5 621.5 L1206.5 621.5 L1219.5 621.5 L1232.5 621.5 L1245.5 621.5 L1258.5 621.5 L1272.5 621.5 L1285.5 621.5 L1298.5 621.5 L1311.5 539.5 L1325.5 473.5 L1338.5 355.5 L1351.5 282.5 L1364.5 252.5 L1378.5 183.5 L1391.5 183.5 L1404.5 183.5 L1417.5 183.5" fill="none" stroke="#f020f0" stroke-width="1" class="e"/>
<path d="M5.5 709.5 L14.5 709.5 L27.5 709.5 L40.5 709.5 L54.5 709.5 L67.5 709.5 L80.5 710.5 L93.5 710.5 L107.5 710.5 L120.5 710.5 L133.5 710.5 L146.5 710.5 L160.5 710.5 L173.5 710.5 L186.5 710.5 L199.5 710.5 L213.5 710.5 L226.5 710.5 L239.5 710.5 L252.5 710.5 L265.5 720.5 L279.5 720.5 L292.5 720.5 L305.5 720.5 L318.5 720.5 L332.5 720.5 L345.5 720.5 L358.5 720.5 L371.5 720.5 L385.5 702.5 L398.5 702.5 L411.5 702.5 L424.5 702.5 L438.5 702.5 L451.5 702.5 L464.5 702.5 L477.5 702.5 L491.5 702.5 L504.5 702.5 L517.5 702.5 L530.5 702.5 L544.5 702.5 L557.5 702.5 L570.5 702.5 L583.5 702.5 L596.5 702.5 L610.5 702.5 L623.5 702.5 L636.5 702.5 L649.5 704.5 L663.5 709.5 L676.5 711.5 L689.5 712.5 L702.5 712.5 L716.5 656.5 L729.5 656.5 L742.5 644.5 L755.5 644.5 L769.5 644.5 L782.5 644.5 L795.5 644.5 L808.5 644.5 L822.5 644.5 L835.5 644.5 L848.5 644.5 L861.5 644.5 L875.5 644.5 L888.5 644.5 L901.5 644.5 L914.5 644.5 L927.5 644.5 L941.5 644.5 L954.5 644.5 L967.5 644.5 L980.5 644.5 L994.5 644.5 L1007.5 645.5 L1020.5 649.5 L1033.5 651.5 L1047.5 651.5 L1060.5 652.5 L1073.5 652.5 L1086.5 652.5 L1100.5 652.5 L1113.5 652.5 L1126.5 652.5 L1139.5 632.5 L1153.5 627.5 L1166.5 627.5 L1179.5 627.5 L1192.5 627.5 L1206.5 627.5 L1219.5 627.5 L1232.5 627.5 L1245.5 627.5 L1258.5 627.5 L1272.5 627.5 L1285.5 627.5 L1298.5 627.5 L1311.5 552.5 L1325.5 498.5 L1338.5 392.5 L1351.5 329.5 L1364.5 302.5 L1378.5 242.5 L1391.5 242.5 L1404.5 242.5 L1417.5 242.5" fill="none" stroke="#108010" stroke-width="1" class="e"/>
<path d="M5.5 717.5 L14.5 717.5 L27.5 717.5 L40.5 717.5 L54.5 717.5 L67.5 717.5 L80.5 718.5 L93.5 718.5 L107.5 718.5 L120.5 718.5 L133.5 718.5 L146.5 718.5 L160.5 718.5 L173.5 718.5 L186.5 718.5 L199.5 718.5 L213.5 718.5 L226.5 718.5 L239.5 718.5 L252.5 718.5 L265.5 722.5 L279.5 722.5 L292.5 722.5 L305.5 722.5 L318.5 722.5 L332.5 722.5 L345.5 722.5 L358.5 722.5 L371.5 722.5 L385.5 714.5 L398.5 714.5 L411.5 714.5 L424.5 714.5 L438.5 714.5 L451.5 714.5 L464.5 714.5 L477.5 714.5 L491.5 714.5 L504.5 714.5 L517.5 714.5 L530.5 714.5 L544.5 714.5 L557.5 714.5 L570.5 714.5 L583.5 714.5 L596.5 714.5 L610.5 714.5 L623.5 714.5 L636.5 714.5 L649.5 714.5 L663.5 717.5 L676.5 718.5 L689.5 718.5 L702.5 718.5 L716.5 666.5 L729.5 666.5 L742.5 655.5 L755.5 655.5 L769.5 655.5 L782.5 655.5 L795.5 655.5 L808.5 655.5 L822.5 655.5 L835.5 655.5 L848.5 655.5 L861.5 655.5 L875.5 655.5 L888.5 655.5 L901.5 655.5 L914.5 655.5 L927.5 655.5 L941.5 655.5 L954.5 655.5 L967.5 655.5 L980.5 655.5 L994.5 655.5 L1007.5 656.5 L1020.5 658.5 L1033.5 659.5 L1047.5 659.5 L1060.5 659.5 L1073.5 659.5 L1086.5 659.5 L1100.5 659.5 L1113.5 659.5 L1126.5 659.5 L1139.5 638.5 L1153.5 633.5 L1166.5 633.5 L1179.5 633.5 L1192.5 633.5 L1206.5 633.5 L1219.5 633.5 L1232.5 633.5 L1245.5 633.5 L1258.5 633.5 L1272.5 633.5 L1285.5 633.5 L1298.5 633.5 L1311.5 566.5 L1325.5 523.5 L1338.5 429.5 L1351.5 377.5 L1364.5 352.5 L1378.5 300.5 L1391.5 300.5 L1404.5 300.5 L1417.5 300.5" fill="none" stroke="#0a0a9a" stroke-width="1" class="e"/>
<path d="M5.5 725.5 L14.5 725.5 L27.5 725.5 L40.5 725.5 L54.5 725.5 L67.5 725.5 L80.5 725.5 L93.5 725.5 L107.5 725.5 L120.5 725.5 L133.5 725.5 L146.5 725.5 L160.5 725.5 L173.5 725.5 L186.5 725.5 L199.5 725.5 L213.5 725.5 L226.5 725.5 L239.5 725.5 L252.5 725.5 L265.5 725.5 L279.5 725.5 L292.5 725.5 L305.5 725.5 L318.5 725.5 L332.5 725.5 L345.5 725.5 L358.5 725.5 L371.5 725.5 L385.5 725.5 L398.5 725.5 L411.5 725.5 L424.5 725.5 L438.5 725.5 L451.5 725.5 L464.5 725.5 L477.5 725.5 L491.5 725.5 L504.5 725.5 L517.5 725.5 L530.5 725.5 L544.5 725.5 L557.5 725.5 L570.5 725.5 L583.5 725.5 L596.5 725.5 L610.5 725.5 L623.5 725.5 L636.5 725.5 L649.5 725.5 L663.5 725.5 L676.5 725.5 L689.5 725.5 L702.5 725.5 L716.5 676.5 L729.5 676.5 L742.5 667.5 L755.5 667.5 L769.5 667.5 L782.5 667.5 L795.5 667.5 L808.5 667.5 L822.5 667.5 L835.5 667.5 L848.5 667.5 L861.5 667.5 L875.5 667.5 L888.5 667.5 L901.5 667.5 L914.5 667.5 L927.5 667.5 L941.5 667.5 L954.5 667.5 L967.5 667.5 L980.5 667.5 L994.5 667.5 L1007.5 667.5 L1020.5 667.5 L1033.5 667.5 L1047.5 667.5 L1060.5 667.5 L1073.5 667.5 L1086.5 667.5 L1100.5 667.5 L1113.5 667.5 L1126.5 667.5 L1139.5 645.5 L1153.5 639.5 L1166.5 639.5 L1179.5 639.5 L1192.5 639.5 L1206.5 639.5 L1219.5 639.5 L1232.5 639.5 L1245.5 639.5 L1258.5 639.5 L1272.5 639.5 L1285.5 639.5 L1298.5 639.5 L1311.5 580.5 L1325.5 548.5 L1338.5 466.5 L1351.5 425.5 L1364.5 402.5 L1378.5 359.5 L1391.5 359.5 L1404.5 359.5 L1417.5 359.5" fill="none" stroke="#c01818" stroke-width="1" class="e"/>
<rect x="9.00" y="902.40" width="11.00" height="2.60" fill="#0d7ac0"/>
<rect x="22.00" y="902.40" width="11.00" height="2.60" fill="#0d7ac0"/>
<rect x="35.00" y="902.40" width="11.00" height="2.60" fill="#0d7ac0"/>
<rect x="49.00" y="902.40" width="11.00" height="2.60" fill="#0d7ac0"/>
<rect x="62.00" y="902.40" width="11.00" height="2.60" fill="#0d7ac0"/>
<rect x="75.00" y="902.40" width="11.00" height="2.60" fill="#0d7ac0"/>
<rect x="88.00" y="902.40" width="11.00" height="2.60" fill="#0d7ac0"/>
<rect x="102.00" y="902.40" width="11.00" height="2.60" fill="#0d7ac0"/>
<rect x="115.00" y="902.40" width="11.00" height="2.60" fill="#0d7ac0"/>
<rect x="128.00" y="902.40" width="11.00" height="2.60" fill="#0d7ac0"/>
<rect x="141.00" y="902.40" width="11.00" height="2.60" fill="#0d7ac0"/>
<rect x="155.00" y="902.40" width="11.00" height="2.60" fill="#0d7ac0"/>
<rect x="168.00" y="902.40" width="11.00" height="2.60" fill="#0d7ac0"/>
<rect x="181.00" y="902.40" width="11.00" height="2.60" fill="#0d7ac0"/>
<rect x="194.00" y="902.40" width="11.00" height="2.60" fill="#0d7ac0"/>
<rect x="208.00" y="902.40" width="11.00" height="2.60" fill="#0d7ac0"/>
<rect x="221.00" y="902.40" width="11.00" height="2.60" fill="#0d7ac0"/>
<rect x="234.00" y="902.40" width="11.00" height="2.60" fill="#0d7ac0"/>
<rect x="247.00" y="902.40" width="11.00" height="2.60" fill="#0d7ac0"/>
<rect x="260.00" y="902.40" width="11.00" height="2.60" fill="#0d7ac0"/>
<rect x="274.00" y="902.40" width="11.00" height="2.60" fill="#0d7ac0"/>
<rect x="287.00" y="902.40" width="11.00" height="2.60" fill="#0d7ac0"/>
<rect x="300.00" y="900.00" width="11.00" height="5.00" fill="#0d7ac0"/>
<rect x="313.00" y="901.00" width="11.00" height="4.00" fill="#0d7ac0"/>
<rect x="327.00" y="902.40" width="11.00" height="2.60" fill="#0d7ac0"/>
<rect x="340.00" y="902.40" width="11.00" height="2.60" fill="#0d7ac0"/>
<rect x="353.00" y="900.00" width="11.00" height="5.00" fill="#0d7ac0"/>
<rect x="366.00" y="900.00" width="11.00" height="5.00" fill="#0d7ac0"/>
<rect x="380.00" y="896.00" width="11.00" height="9.00" fill="#0d7ac0"/>
<rect x="393.00" y="900.00" width="11.00" height="5.00" fill="#0d7ac0"/>
<rect x="406.00" y="900.00" width="11.00" height="5.00" fill="#0d7ac0"/>
<rect x="419.00" y="901.00" width="11.00" height="4.00" fill="#0d7ac0"/>
<rect x="433.00" y="902.40" width="11.00" height="2.60" fill="#0d7ac0"/>
<rect x="446.00" y="901.00" width="11.00" height="4.00" fill="#0d7ac0"/>
<rect x="459.00" y="902.40" width="11.00" height="2.60" fill="#0d7ac0"/>
<rect x="472.00" y="902.40" width="11.00" height="2.60" fill="#0d7ac0"/>
<rect x="486.00" y="902.40" width="11.00" height="2.60" fill="#0d7ac0"/>
<rect x="499.00" y="902.40" width="11.00" height="2.60" fill="#0d7ac0"/>
<rect x="512.00" y="902.40" width="11.00" height="2.60" fill="#0d7ac0"/>
<rect x="525.00" y="902.40" width="11.00" height="2.60" fill="#0d7ac0"/>
<rect x="539.00" y="902.40" width="11.00" height="2.60" fill="#0d7ac0"/>
<rect x="552.00" y="902.40" width="11.00" height="2.60" fill="#0d7ac0"/>
<rect x="565.00" y="902.40" width="11.00" height="2.60" fill="#0d7ac0"/>
<rect x="578.00" y="902.40" width="11.00" height="2.60" fill="#0d7ac0"/>
<rect x="591.00" y="901.00" width="11.00" height="4.00" fill="#0d7ac0"/>
<rect x="605.00" y="902.40" width="11.00" height="2.60" fill="#0d7ac0"/>
<rect x="618.00" y="902.40" width="11.00" height="2.60" fill="#0d7ac0"/>
<rect x="631.00" y="902.40" width="11.00" height="2.60" fill="#0d7ac0"/>
<rect x="644.00" y="902.40" width="11.00" height="2.60" fill="#0d7ac0"/>
<rect x="658.00" y="902.40" width="11.00" height="2.60" fill="#0d7ac0"/>
<rect x="671.00" y="901.00" width="11.00" height="4.00" fill="#0d7ac0"/>
<rect x="684.00" y="902.40" width="11.00" height="2.60" fill="#0d7ac0"/>
<rect x="697.00" y="902.40" width="11.00" height="2.60" fill="#0d7ac0"/>
<rect x="711.00" y="894.00" width="11.00" height="11.00" fill="#0d7ac0"/>
<rect x="724.00" y="899.00" width="11.00" height="6.00" fill="#0d7ac0"/>
<rect x="737.00" y="898.00" width="11.00" height="7.00" fill="#0d7ac0"/>
<rect x="750.00" y="901.00" width="11.00" height="4.00" fill="#0d7ac0"/>
<rect x="764.00" y="902.40" width="11.00" height="2.60" fill="#0d7ac0"/>
<rect x="777.00" y="902.40" width="11.00" height="2.60" fill="#0d7ac0"/>
<rect x="790.00" y="902.40" width="11.00" height="2.60" fill="#0d7ac0"/>
<rect x="803.00" y="902.40" width="11.00" height="2.60" fill="#0d7ac0"/>
<rect x="817.00" y="902.40" width="11.00" height="2.60" fill="#0d7ac0"/>
<rect x="830.00" y="902.40" width="11.00" height="2.60" fill="#0d7ac0"/>
<rect x="843.00" y="902.40" width="11.00" height="2.60" fill="#0d7ac0"/>
<rect x="856.00" y="902.40" width="11.00" height="2.60" fill="#0d7ac0"/>
<rect x="870.00" y="902.40" width="11.00" height="2.60" fill="#0d7ac0"/>
<rect x="883.00" y="902.40" width="11.00" height="2.60" fill="#0d7ac0"/>
<rect x="896.00" y="902.40" width="11.00" height="2.60" fill="#0d7ac0"/>
<rect x="909.00" y="902.40" width="11.00" height="2.60" fill="#0d7ac0"/>
<rect x="922.00" y="902.40" width="11.00" height="2.60" fill="#0d7ac0"/>
<rect x="936.00" y="902.40" width="11.00" height="2.60" fill="#0d7ac0"/>
<rect x="949.00" y="902.40" width="11.00" height="2.60" fill="#0d7ac0"/>
<rect x="962.00" y="902.40" width="11.00" height="2.60" fill="#0d7ac0"/>
<rect x="975.00" y="902.40" width="11.00" height="2.60" fill="#0d7ac0"/>
<rect x="989.00" y="902.40" width="11.00" height="2.60" fill="#0d7ac0"/>
<rect x="1002.00" y="902.40" width="11.00" height="2.60" fill="#0d7ac0"/>
<rect x="1015.00" y="902.40" width="11.00" height="2.60" fill="#0d7ac0"/>
<rect x="1028.00" y="902.40" width="11.00" height="2.60" fill="#0d7ac0"/>
<rect x="1042.00" y="902.40" width="11.00" height="2.60" fill="#0d7ac0"/>
<rect x="1055.00" y="902.40" width="11.00" height="2.60" fill="#0d7ac0"/>
<rect x="1068.00" y="900.00" width="11.00" height="5.00" fill="#0d7ac0"/>
<rect x="1081.00" y="902.40" width="11.00" height="2.60" fill="#0d7ac0"/>
<rect x="1095.00" y="902.40" width="11.00" height="2.60" fill="#0d7ac0"/>
<rect x="1108.00" y="902.40" width="11.00" height="2.60" fill="#0d7ac0"/>
<rect x="1121.00" y="902.40" width="11.00" height="2.60" fill="#0d7ac0"/>
<rect x="1134.00" y="900.00" width="11.00" height="5.00" fill="#0d7ac0"/>
<rect x="1148.00" y="901.00" width="11.00" height="4.00" fill="#0d7ac0"/>
<rect x="1161.00" y="902.40" width="11.00" height="2.60" fill="#0d7ac0"/>
<rect x="1174.00" y="902.40" width="11.00" height="2.60" fill="#0d7ac0"/>
<rect x="1187.00" y="902.40" width="11.00" height="2.60" fill="#0d7ac0"/>
<rect x="1201.00" y="902.40" width="11.00" height="2.60" fill="#0d7ac0"/>
<rect x="1214.00" y="902.40" width="11.00" height="2.60" fill="#0d7ac0"/>
<rect x="1227.00" y="902.40" width="11.00" height="2.60" fill="#0d7ac0"/>
<rect x="1240.00" y="902.40" width="11.00" height="2.60" fill="#0d7ac0"/>
<rect x="1253.00" y="902.40" width="11.00" height="2.60" fill="#0d7ac0"/>
<rect x="1267.00" y="902.40" width="11.00" height="2.60" fill="#0d7ac0"/>
<rect x="1280.00" y="902.40" width="11.00" height="2.60" fill="#0d7ac0"/>
<rect x="1293.00" y="902.00" width="11.00" height="3.00" fill="#0d7ac0"/>
<rect x="1306.00" y="885.10" width="11.00" height="19.90" fill="#0d7ac0"/>
<rect x="1320.00" y="856.20" width="11.00" height="48.80" fill="#0d7ac0"/>
<rect x="1333.00" y="808.10" width="11.00" height="96.90" fill="#0d7ac0"/>
<rect x="1346.00" y="823.10" width="11.00" height="81.90" fill="#0d7ac0"/>
<rect x="1359.00" y="845.00" width="11.00" height="60.00" fill="#0d7ac0"/>
<rect x="1373.00" y="827.30" width="11.00" height="77.70" fill="#0d7ac0"/>
<rect x="1386.00" y="869.20" width="11.00" height="35.80" fill="#0d7ac0"/>
<rect x="1399.00" y="865.20" width="11.00" height="39.80" fill="#0d7ac0"/>
<rect x="1412.00" y="889.10" width="11.00" height="15.90" fill="#0d7ac0"/>
<rect x="1494.50" y="772.00" width="5.50" height="1.00" fill="#222"/>
<text class="t" x="1503.6" y="776.5" fill="#262626" font-size="12.3" textLength="27.0" lengthAdjust="spacingAndGlyphs">2800</text>
<rect x="1494.50" y="705.00" width="3.00" height="1.00" fill="#222"/>
<rect x="1494.50" y="639.00" width="5.50" height="1.00" fill="#222"/>
<text class="t" x="1503.6" y="644.1" fill="#262626" font-size="12.3" textLength="27.0" lengthAdjust="spacingAndGlyphs">3000</text>
<rect x="1494.50" y="573.00" width="3.00" height="1.00" fill="#222"/>
<rect x="1494.50" y="507.00" width="5.50" height="1.00" fill="#222"/>
<text class="t" x="1503.6" y="511.8" fill="#262626" font-size="12.3" textLength="27.0" lengthAdjust="spacingAndGlyphs">3200</text>
<rect x="1494.50" y="441.00" width="3.00" height="1.00" fill="#222"/>
<rect x="1494.50" y="375.00" width="5.50" height="1.00" fill="#222"/>
<text class="t" x="1503.6" y="379.4" fill="#262626" font-size="12.3" textLength="27.0" lengthAdjust="spacingAndGlyphs">3400</text>
<rect x="1494.50" y="308.00" width="3.00" height="1.00" fill="#222"/>
<rect x="1494.50" y="242.00" width="5.50" height="1.00" fill="#222"/>
<text class="t" x="1503.6" y="247.1" fill="#262626" font-size="12.3" textLength="27.0" lengthAdjust="spacingAndGlyphs">3600</text>
<rect x="1494.50" y="176.00" width="3.00" height="1.00" fill="#222"/>
<rect x="1494.50" y="110.00" width="5.50" height="1.00" fill="#222"/>
<text class="t" x="1503.6" y="114.7" fill="#262626" font-size="12.3" textLength="27.0" lengthAdjust="spacingAndGlyphs">3800</text>
<rect x="1494.50" y="904.00" width="5.50" height="1.00" fill="#222"/>
<text class="t" x="1503.6" y="909.1" fill="#262626" font-size="12.3" textLength="6.8" lengthAdjust="spacingAndGlyphs">0</text>
<rect x="1494.50" y="876.00" width="5.50" height="1.00" fill="#222"/>
<text class="t" x="1503.6" y="881.1" fill="#262626" font-size="12.3" textLength="47.9" lengthAdjust="spacingAndGlyphs">2000000</text>
<rect x="1494.50" y="849.00" width="5.50" height="1.00" fill="#222"/>
<text class="t" x="1503.6" y="853.8" fill="#262626" font-size="12.3" textLength="47.9" lengthAdjust="spacingAndGlyphs">4000000</text>
<rect x="1494.50" y="822.00" width="5.50" height="1.00" fill="#222"/>
<text class="t" x="1503.6" y="826.7" fill="#262626" font-size="12.3" textLength="47.9" lengthAdjust="spacingAndGlyphs">6000000</text>
<rect x="1494.50" y="794.60" width="6.00" height="1.20" fill="#222"/>
<rect x="1483.5" y="48.5" width="8" height="8" fill="#fff" stroke="#888" stroke-width=".8"/><rect x="1485.5" y="50.5" width="4" height="4" fill="none" stroke="#000" stroke-width="1.3"/>
<rect x="1473.5" y="790.5" width="8" height="8" fill="#fff" stroke="#777" stroke-width=".8"/><path class="e" d="M1475.0 794.5h5.5" stroke="#111" stroke-width="1"/>
<rect x="1483.5" y="790.5" width="8" height="8" fill="#fff" stroke="#777" stroke-width=".8"/><path d="M1485.1 792.1l5 5M1490.1 792.1l-5 5" stroke="#111" stroke-width="1"/>
<text class="t" x="6.4" y="61.0" fill="#222" textLength="71.4" lengthAdjust="spacingAndGlyphs">우리기술투자</text>
<text class="t" x="83.2" y="61.0" fill="#222">cl</text>
<text class="t" x="99.4" y="61.0" fill="#222" textLength="21.3" lengthAdjust="spacingAndGlyphs">(20)</text>
<text class="t" x="125.5" y="61.0" fill="#222" textLength="64.5" lengthAdjust="spacingAndGlyphs">2019/03/25</text>
<text class="t" x="196.0" y="61.0" fill="#222" textLength="29.0" lengthAdjust="spacingAndGlyphs">13:15</text>
<text class="t" x="231.0" y="61.0" fill="#1a1a80" textLength="29.5" lengthAdjust="spacingAndGlyphs">3,090</text>
<text class="t" x="266.0" y="61.0" fill="#e030e0" textLength="29.5" lengthAdjust="spacingAndGlyphs">3,148</text>
<text class="t" x="300.8" y="61.0" fill="#208a20" textLength="29.5" lengthAdjust="spacingAndGlyphs">3,177</text>
<text class="t" x="335.8" y="61.0" fill="#1a1ab0" textLength="29.5" lengthAdjust="spacingAndGlyphs">3,206</text>
<text class="t" x="370.7" y="61.0" fill="#c02020" textLength="29.5" lengthAdjust="spacingAndGlyphs">3,235</text>
<text class="t" x="6.4" y="802.5" fill="#222" textLength="35.6" lengthAdjust="spacingAndGlyphs">거래량</text>
<text class="t" x="50.0" y="802.5" fill="#222" textLength="64.5" lengthAdjust="spacingAndGlyphs">2019/03/25</text>
<text class="t" x="120.5" y="802.5" fill="#222" textLength="29.0" lengthAdjust="spacingAndGlyphs">13:15</text>
<text class="t" x="156.0" y="802.5" fill="#3a8cc4" textLength="37.0" lengthAdjust="spacingAndGlyphs">39,728</text>
<rect x="40.00" y="910.00" width="1.00" height="5.00" fill="#222"/>
<text class="t" x="40.5" y="930.0" fill="#3a3a3a" font-size="12.3" text-anchor="middle">10:00</text>
<rect x="146.00" y="910.00" width="1.00" height="5.00" fill="#222"/>
<text class="t" x="146.5" y="930.0" fill="#3a3a3a" font-size="12.3" text-anchor="middle">12:00</text>
<rect x="252.00" y="910.00" width="1.00" height="5.00" fill="#222"/>
<text class="t" x="252.5" y="930.0" fill="#3a3a3a" font-size="12.3" text-anchor="middle">14:00</text>
<rect x="358.00" y="910.00" width="1.00" height="5.00" fill="#222"/>
<text class="t" x="358.5" y="930.0" fill="#222" font-size="12.3" font-weight="bold" text-anchor="middle" textLength="33.5" lengthAdjust="spacingAndGlyphs">03/29</text>
<rect x="464.00" y="910.00" width="1.00" height="5.00" fill="#222"/>
<text class="t" x="464.5" y="930.0" fill="#3a3a3a" font-size="12.3" text-anchor="middle">11:15</text>
<rect x="570.00" y="910.00" width="1.00" height="5.00" fill="#222"/>
<text class="t" x="570.5" y="930.0" fill="#3a3a3a" font-size="12.3" text-anchor="middle">13:15</text>
<rect x="676.00" y="910.00" width="1.00" height="5.00" fill="#222"/>
<text class="t" x="676.5" y="930.0" fill="#3a3a3a" font-size="12.3" text-anchor="middle">15:15</text>
<rect x="716.00" y="910.00" width="1.00" height="5.00" fill="#222"/>
<text class="t" x="716.5" y="930.0" fill="#222" font-size="12.3" font-weight="bold" text-anchor="middle">A</text>
<rect x="822.00" y="910.00" width="1.00" height="5.00" fill="#222"/>
<text class="t" x="822.5" y="930.0" fill="#3a3a3a" font-size="12.3" text-anchor="middle">11:15</text>
<rect x="927.00" y="910.00" width="1.00" height="5.00" fill="#222"/>
<text class="t" x="927.5" y="930.0" fill="#3a3a3a" font-size="12.3" text-anchor="middle">13:15</text>
<rect x="1033.00" y="910.00" width="1.00" height="5.00" fill="#222"/>
<text class="t" x="1033.5" y="930.0" fill="#3a3a3a" font-size="12.3" text-anchor="middle">15:15</text>
<rect x="1073.00" y="910.00" width="1.00" height="5.00" fill="#222"/>
<text class="t" x="1073.5" y="930.0" fill="#222" font-size="12.3" font-weight="bold" text-anchor="middle">02</text>
<rect x="1179.00" y="910.00" width="1.00" height="5.00" fill="#222"/>
<text class="t" x="1179.5" y="930.0" fill="#3a3a3a" font-size="12.3" text-anchor="middle">11:15</text>
<rect x="1285.00" y="910.00" width="1.00" height="5.00" fill="#222"/>
<text class="t" x="1285.5" y="930.0" fill="#3a3a3a" font-size="12.3" text-anchor="middle">13:15</text>
<rect x="1391.00" y="910.00" width="1.00" height="5.00" fill="#222"/>
<text class="t" x="1391.5" y="930.0" fill="#3a3a3a" font-size="12.3" text-anchor="middle">15:15</text>
<text class="t" x="1545.0" y="930.0" fill="#3a3a3a" font-size="12.3" text-anchor="middle">15:45</text>
<rect x="1494.5" y="916.2" width="14" height="14" fill="#f4f4f4" stroke="#555" stroke-width="1"/><circle cx="1500.1" cy="921.8000000000001" r="2.6" fill="none" stroke="#111" stroke-width="1.6"/><path d="M1502.3 924.0l3.4 3.4" stroke="#111" stroke-width="2.2" stroke-linecap="round"/>
<rect x="4.50" y="935.00" width="1569.50" height="16.00" fill="#c2c2c2"/>
<rect x="7.00" y="935.00" width="15.00" height="15.50" fill="#b4b4b4"/>
<path d="M15 939.5v6.5l-4-3.25z" fill="#000"/>
<path d="M22 951.0 L22 949.4 L45 949.2 L46 948.0 L120 948.2 L121 948.8 L200 948.6 L205 947.6 L300 947.8 L330 948.2 L331 946.8 L335 947.6 L420 947.6 L470 947.4 L540 947.6 L560 947.0 L640 947.2 L700 946.8 L760 947.0 L820 947.2 L900 947.6 L960 947.2 L1038 946.6 L1040 944.5 L1043 941.5 L1060 942.5 L1090 941.8 L1130 942.6 L1160 943.6 L1200 944.2 L1240 945.8 L1280 947.2 L1296 947.6 L1296 951.0z" fill="#7c7c7c"/>
<rect x="1299.00" y="935.00" width="66.00" height="15.50" fill="#7e7e7e"/>
<path d="M1300 950.5 L1300 948.5 L1312 948.0 L1313 946.0 L1316 947.0 L1330 946.5 L1331 945.0 L1336 946.0 L1348 945.5 L1349 943.5 L1352 945.0 L1358 942.0 L1360 939.0 L1363 936.0 L1364 950.5z" fill="#555"/>
<rect x="1298.30" y="936.00" width="1.60" height="14.50" fill="#fff"/>
<rect x="1297.20" y="936.00" width="1.00" height="14.50" fill="#333"/>
<rect x="1363.70" y="936.00" width="1.60" height="14.50" fill="#fff"/>
<rect x="1362.60" y="936.00" width="1.00" height="14.50" fill="#333"/>
<rect x="1366.50" y="935.00" width="55.00" height="15.50" fill="#bcbcbc"/>
<rect x="1383.00" y="935.00" width="1.00" height="15.50" fill="#a8a8a8"/>
<rect x="1401.50" y="935.00" width="1.00" height="15.50" fill="#a8a8a8"/>
<g transform="translate(0,1.3)">
<path d="M1372.5 939.5v7l4.5-3.5z" fill="#000"/>
<path d="M1391 939.7v6.6l-4.2-3.3zM1395.5 939.7v6.6l-4.2-3.3z" fill="#000"/>
<path d="M1406.5 939.7v6.6l4.2-3.3zM1411 939.7v6.6l4.2-3.3z" fill="#000"/>
<rect x="1421.60" y="936.00" width="51.00" height="14.00" fill="#fff" stroke="#999" stroke-width=".8"/>
<text class="t" x="1469.0" y="947.3" fill="#333" text-anchor="end" textLength="20.0" lengthAdjust="spacingAndGlyphs">112</text>
<path d="M1481.5 938.5v9.5l-5.2-4.75zM1483 938.5v9.5l5.2-4.75z" fill="#000"/>
<path d="M1495.5 938.5v9.5l5.2-4.75zM1506.5 938.5v9.5l-5.2-4.75z" fill="#000"/>
<circle cx="1518.3" cy="943.5" r="4.6" fill="#fff" stroke="#000" stroke-width="1.3"/><path d="M1515.3 943.5h6M1518.3 940.5v6" stroke="#000" stroke-width="1.3"/>
<circle cx="1537.3" cy="943.5" r="4.6" fill="#c8c8c8" stroke="#a6a6a6" stroke-width="1.2"/><path d="M1533 943.5h8.6" stroke="#a6a6a6" stroke-width="1.2"/>
<rect x="1550" y="939" width="8.5" height="8.5" fill="#cfcfcf" stroke="#a6a6a6"/><path d="M1552 945.5l4.5-4.5" stroke="#a8a8a8"/>
<rect x="1566.5" y="938.5" width="9" height="9.5" fill="#fff" stroke="#000" stroke-width="1.2"/><path d="M1567 939l8 8.5M1567 947.5l8-8.5" stroke="#000" stroke-width="1.1"/>
</g>
<rect x="8.00" y="951.00" width="1566.00" height="1016.00" fill="#fff"/>
<rect x="8.00" y="951.00" width="1566.00" height="1.00" fill="#1a1a1a"/>
<rect x="8.00" y="952.00" width="1566.00" height="1.00" fill="#8c8c8c"/>
<rect x="8.00" y="953.00" width="1566.00" height="1.00" fill="#fff"/>
<rect x="8.00" y="951.00" width="2.00" height="1016.00" fill="#2a2a2a"/>
<rect x="10.00" y="953.00" width="1.00" height="43.00" fill="#d8d8d8"/>
<rect x="11.00" y="954.00" width="1563.00" height="18.00" fill="url(#g2)"/>
<g transform="translate(11,954)"><rect width="18" height="18" fill="url(#lg)"/><path d="M2 3 C5 3 7 8 7.5 16 L9.5 16 C9 9 11 4 16 1.5 C11 2.5 8 5 7 9 C6.5 6 5 3.5 2 3Z" fill="#fff" opacity=".92"/></g>
<text class="t" x="36.5" y="966.4" fill="#ffffff" font-size="12.6" font-weight="bold" textLength="38.8" lengthAdjust="spacingAndGlyphs">[6100]</text>
<text class="t" x="82.7" y="966.4" fill="#ffffff" font-size="12.4" font-weight="bold" textLength="24.0" lengthAdjust="spacingAndGlyphs">차트</text>
<rect x="1502.00" y="956.00" width="14.00" height="12.00" fill="#c9c9c9" rx="2"/>
<path d="M1507 958h4.5v1h-1l.6 3.2l1.6 1.3h-6.9l1.6-1.3l.6-3.2h-1z" fill="#333"/><rect x="1508.6" y="959" width="1.3" height="3" fill="#c9c9c9"/><rect x="1505.5" y="965" width="7.5" height="1" fill="#222"/>
<path d="M1527 957.5h-4.5v9h4.5M1532 962h-5M1529 959.5l-2.5 2.5l2.5 2.5" stroke="#fff" stroke-width="1.4" fill="none"/>
<text class="t" x="1540.0" y="966.0" fill="#f4f4f4" font-size="11" font-weight="bold">?</text>
<rect x="1562.00" y="963.70" width="8.00" height="2.30" fill="#f4f4f4"/>
<rect x="11.00" y="972.00" width="1563.00" height="23.50" fill="#b4b4b4"/>
<rect x="11.00" y="972.00" width="1563.00" height="1.00" fill="#a2a2a8"/>
<rect x="11.00" y="996.00" width="1563.00" height="1.00" fill="#000"/>
<rect x="13.0" y="975" width="6" height="17.5" rx="1.5" fill="#f0f0f0" stroke="#9c9ca4" stroke-width=".6"/>
<path d="M17.6 981v6l-3.4-3z" fill="#333"/>
<rect x="23.30" y="974.00" width="1.00" height="20.00" fill="#e8e8e8"/>
<rect x="22.30" y="974.00" width="1.00" height="20.00" fill="#8c8c8c"/>
<rect x="28.00" y="974.00" width="189.00" height="19.60" fill="#a2a2a6"/>
<rect x="29.00" y="975.00" width="187.00" height="18.00" fill="#fff"/>
<text class="g" x="31.5" y="988.3" fill="#111" font-size="11.5" textLength="36.0" lengthAdjust="spacingAndGlyphs">002760</text>
<path d="M203.8 982.1h7.2l-3.6 4z" fill="#111"/>
<rect x="219.0" y="975" width="17.5" height="18" rx="2" fill="url(#bt)" stroke="#c4c4c4" stroke-width=".8"/>
<g transform="translate(219,975)"><circle cx="7" cy="7.3" r="3.3" fill="none" stroke="#111" stroke-width="1.9"/><path d="M9.6 9.9l4 4" stroke="#111" stroke-width="2.6" stroke-linecap="round"/></g>
<rect x="241.0" y="975" width="18.0" height="18" rx="2" fill="url(#bt)" stroke="#c4c4c4" stroke-width=".8"/>
<g transform="translate(241,975)"><circle cx="7" cy="6.5" r="4" fill="#f0f0f0" stroke="#777" stroke-width="1.2"/><path d="M10 9.5l4 4" stroke="#555" stroke-width="2"/><path d="M15 6.5l-5 4.5l5 4.2l-1-3.2h3v-2h-3z" fill="#d01010"/><path d="M9 12l-3-1 2.5-1.5z" fill="#d01010"/></g>
<rect x="262.00" y="974.00" width="1.00" height="20.00" fill="#8c8c8c"/>
<rect x="263.30" y="974.00" width="1.00" height="20.00" fill="#e8e8e8"/>
<rect x="268.4" y="975" width="19.0" height="18" rx="2" fill="url(#bt)" stroke="#c4c4c4" stroke-width=".8"/>
<text class="g" x="277.9" y="988.8" fill="#000" font-size="12.5" font-weight="500" text-anchor="middle">일</text>
<rect x="290.3" y="975" width="19.0" height="18" rx="2" fill="url(#bt)" stroke="#c4c4c4" stroke-width=".8"/>
<text class="g" x="299.8" y="988.8" fill="#000" font-size="12.5" font-weight="500" text-anchor="middle">주</text>
<rect x="312.2" y="975" width="19.0" height="18" rx="2" fill="url(#bt)" stroke="#c4c4c4" stroke-width=".8"/>
<text class="g" x="321.7" y="988.8" fill="#000" font-size="12.5" font-weight="500" text-anchor="middle">월</text>
<rect x="334.1" y="975" width="19.0" height="18" rx="2" fill="url(#pk)" stroke="#d08a8a" stroke-width=".8"/>
<text class="g" x="343.6" y="988.8" fill="#000" font-size="12.5" font-weight="500" text-anchor="middle">분</text>
<rect x="354.70" y="974.00" width="45.20" height="19.60" fill="#a2a2a6"/>
<rect x="355.70" y="975.00" width="43.20" height="18.00" fill="#fff"/>
<text class="g" x="359.7" y="988.3" fill="#111" font-size="11.5" textLength="11.5" lengthAdjust="spacingAndGlyphs">15</text>
<path d="M386.7 982.1h7.2l-3.6 4z" fill="#111"/>
<rect x="402.7" y="975" width="18.2" height="18" rx="2" fill="url(#bt)" stroke="#c4c4c4" stroke-width=".8"/>
<text class="g" x="411.8" y="988.8" fill="#000" font-size="12.5" font-weight="500" text-anchor="middle">틱</text>
<rect x="422.70" y="974.00" width="55.50" height="19.60" fill="#a2a2a6"/>
<rect x="423.70" y="975.00" width="53.50" height="18.00" fill="#fff"/>
<text class="g" x="427.7" y="988.3" fill="#111" font-size="11.5" textLength="11.5" lengthAdjust="spacingAndGlyphs">10</text>
<path d="M465.0 982.1h7.2l-3.6 4z" fill="#111"/>
<rect x="480.50" y="974.00" width="1.00" height="20.00" fill="#8c8c8c"/>
<rect x="481.80" y="974.00" width="1.00" height="20.00" fill="#e8e8e8"/>
<rect x="486.00" y="974.00" width="49.50" height="19.60" fill="#a2a2a6"/>
<rect x="487.00" y="975.00" width="47.50" height="18.00" fill="#fff"/>
<text class="g" x="491.0" y="988.3" fill="#111" font-size="11.5" textLength="24.0" lengthAdjust="spacingAndGlyphs">날짜</text>
<path d="M522.3 982.1h7.2l-3.6 4z" fill="#111"/>
<rect x="536.80" y="974.00" width="85.20" height="19.60" fill="#a2a2a6"/>
<rect x="537.80" y="975.00" width="83.20" height="18.00" fill="#fff"/>
<text class="g" x="540.8" y="988.3" fill="#111" font-size="11.5" textLength="60.0" lengthAdjust="spacingAndGlyphs">2018-03-07</text>
<path d="M608.8 982.1h7.2l-3.6 4z" fill="#111"/>
<text class="g" x="623.5" y="988.0" fill="#222" font-size="11">~</text>
<rect x="633.00" y="974.00" width="85.80" height="19.60" fill="#a2a2a6"/>
<rect x="634.00" y="975.00" width="83.80" height="18.00" fill="#fff"/>
<text class="g" x="637.0" y="988.3" fill="#111" font-size="11.5" textLength="60.0" lengthAdjust="spacingAndGlyphs">2019-04-10</text>
<path d="M705.6 982.1h7.2l-3.6 4z" fill="#111"/>
<rect x="722.00" y="974.00" width="1.00" height="20.00" fill="#8c8c8c"/>
<rect x="723.30" y="974.00" width="1.00" height="20.00" fill="#e8e8e8"/>
<rect x="727.5" y="975" width="18.2" height="18" rx="2" fill="url(#bt)" stroke="#c4c4c4" stroke-width=".8"/>
<g transform="translate(727.5,975)"><path d="M2 7c3 3 5 4 7 3s5-4 8-5" stroke="#333" stroke-width="1.2" fill="none"/><path d="M2 12c3-1 5 2 7 0s4-5 8-7" stroke="#d01010" stroke-width="1.6" fill="none"/></g>
<rect x="750.0" y="975" width="18.2" height="18" rx="2" fill="url(#bt)" stroke="#c4c4c4" stroke-width=".8"/>
<g transform="translate(750.0,975)"><path d="M4 8v7M7 5v10M10 7v8M13 3v8" stroke="#444" stroke-width="1.4"/><path d="M4 5v2M7 16v1M10 4v2M13 12v2M15.5 4v4M15.5 10v2" stroke="#d01010" stroke-width="1.4"/></g>
<rect x="772.0" y="975" width="18.2" height="18" rx="2" fill="url(#bt)" stroke="#c4c4c4" stroke-width=".8"/>
<g transform="translate(772.0,975)"><path d="M4 10v6M7 8v8M10 6v9M13 4v10M15.5 3v8" stroke="#444" stroke-width="1.7"/></g>
<rect x="794.0" y="975" width="18.2" height="18" rx="2" fill="url(#bt)" stroke="#c4c4c4" stroke-width=".8"/>
<g transform="translate(794.0,975)"><path d="M6 15V6M3 8.5L6 4.5 9 8.5z" stroke="#111" stroke-width="1.8" fill="#111"/><path d="M12.5 4v8M10 10l2.5 4.5L15 10z" stroke="#555" stroke-width="1.1" fill="#eee"/></g>
<rect x="821.0" y="975" width="18.2" height="18" rx="2" fill="url(#bt)" stroke="#c4c4c4" stroke-width=".8"/>
<g transform="translate(821.0,975)"><path d="M4 3h6l3 3v9H4z" fill="#fafafa" stroke="#444" stroke-width="1.1"/><circle cx="12.5" cy="12" r="3.2" fill="#fafafa" stroke="#333" stroke-width="1.3"/><path d="M11.7 10.6v2.8l2.2-1.4z" fill="#333"/></g>
<rect x="843.5" y="975" width="18.2" height="18" rx="2" fill="url(#bt)" stroke="#c4c4c4" stroke-width=".8"/>
<g transform="translate(843.5,975)"><path d="M5 3l3 3 3-3" stroke="#9a9a9a" fill="none"/><rect x="3.5" y="6" width="11" height="8" fill="#c8c8c8" stroke="#9a9a9a"/><path d="M8 9h4v4M10 11h3" stroke="#999" stroke-width="1.2" fill="none"/></g>
<rect x="865.5" y="975" width="18.2" height="18" rx="2" fill="url(#bt)" stroke="#c4c4c4" stroke-width=".8"/>
<g transform="translate(865.5,975)"><rect x="3.5" y="5.5" width="9" height="9" fill="#f4f4f4" stroke="#444" stroke-width="1.1"/><path d="M10 8a2.6 2.6 0 1 0 .6 3.6h-2" stroke="#333" stroke-width="1.2" fill="none"/><text x="10.2" y="9.8" font-size="8.5" font-weight="bold" fill="#d01010" class="t">R</text></g>
<rect x="887.6" y="975" width="18.2" height="18" rx="2" fill="url(#bt)" stroke="#c4c4c4" stroke-width=".8"/>
<g transform="translate(887.6,975)"><rect x="6" y="4" width="7.5" height="8" fill="#f4f4f4" stroke="#444" stroke-width="1.1"/><rect x="3.5" y="7" width="7.5" height="8" fill="#f4f4f4" stroke="#444" stroke-width="1.1"/><text x="10.2" y="9.8" font-size="8.5" font-weight="bold" fill="#d01010" class="t">R</text></g>
<rect x="915.5" y="975" width="18.2" height="18" rx="2" fill="url(#bt)" stroke="#c4c4c4" stroke-width=".8"/>
<g transform="translate(915.5,975)"><path d="M3.5 3.5h11v12h-11z" fill="#f4f4f4" stroke="#444" stroke-width="1.2"/><rect x="6" y="3.5" width="6" height="4.5" fill="#fff" stroke="#444" stroke-width="1"/><rect x="6" y="10.5" width="6" height="5" fill="#ddd" stroke="#444" stroke-width="1"/></g>
<rect x="938.0" y="975" width="18.2" height="18" rx="2" fill="url(#bt)" stroke="#c4c4c4" stroke-width=".8"/>
<g transform="translate(938.0,975)"><path d="M2.5 15V7h4l1.5 1.5h6V15z" fill="#f2c744" stroke="#8a6a10" stroke-width=".9"/><path d="M2.5 15l2.5-5h11l-2.5 5z" fill="#fbe08a" stroke="#8a6a10" stroke-width=".9"/><path d="M9 8c1-3 3-4 5-4V2l3.5 3.5L14 9V7c-2 0-3.5 0-5 1z" fill="#d01010"/></g>
<rect x="816.60" y="974.00" width="1.00" height="20.00" fill="#8c8c8c"/>
<rect x="817.90" y="974.00" width="1.00" height="20.00" fill="#e8e8e8"/>
<rect x="910.00" y="974.00" width="1.00" height="20.00" fill="#8c8c8c"/>
<rect x="911.30" y="974.00" width="1.00" height="20.00" fill="#e8e8e8"/>
<line x1="41.50" y1="997.50" x2="41.50" y2="1940.00" stroke="#c4c4c4" stroke-width="1"/>
<line x1="219.50" y1="997.50" x2="219.50" y2="1940.00" stroke="#c4c4c4" stroke-width="1"/>
<line x1="396.50" y1="997.50" x2="396.50" y2="1940.00" stroke="#c4c4c4" stroke-width="1"/>
<line x1="573.50" y1="997.50" x2="573.50" y2="1940.00" stroke="#c4c4c4" stroke-width="1"/>
<line x1="750.50" y1="997.50" x2="750.50" y2="1940.00" stroke="#c4c4c4" stroke-width="1"/>
<line x1="928.50" y1="997.50" x2="928.50" y2="1940.00" stroke="#c4c4c4" stroke-width="1"/>
<line x1="1105.50" y1="997.50" x2="1105.50" y2="1940.00" stroke="#c4c4c4" stroke-width="1"/>
<line x1="1282.50" y1="997.50" x2="1282.50" y2="1940.00" stroke="#c4c4c4" stroke-width="1"/>
<rect x="9.80" y="1867.90" width="1483.90" height="1.20" fill="#000"/>
<rect x="9.80" y="1939.60" width="1484.50" height="1.30" fill="#000"/>
<rect x="1493.10" y="996.00" width="1.30" height="944.80" fill="#000"/>
<rect x="15.00" y="1790.00" width="1.00" height="59.00" fill="#a01818"/>
<rect x="13.00" y="1790.00" width="5.00" height="36.00" fill="#e00000"/>
<rect x="22.00" y="1802.00" width="1.00" height="47.00" fill="#101078"/>
<rect x="20.00" y="1802.00" width="5.00" height="12.00" fill="#0000d0"/>
<rect x="28.00" y="1790.00" width="1.00" height="70.00" fill="#a01818"/>
<rect x="26.00" y="1790.00" width="5.00" height="36.00" fill="#e00000"/>
<rect x="33.00" y="1802.00" width="5.00" height="1.00" fill="#101078"/>
<rect x="41.00" y="1767.00" width="1.00" height="46.00" fill="#a01818"/>
<rect x="39.00" y="1790.00" width="5.00" height="13.00" fill="#e00000"/>
<rect x="48.00" y="1767.00" width="1.00" height="46.00" fill="#a01818"/>
<rect x="46.00" y="1790.00" width="5.00" height="1.00" fill="#a01818"/>
<rect x="54.00" y="1778.00" width="1.00" height="47.00" fill="#101078"/>
<rect x="52.00" y="1778.00" width="5.00" height="48.00" fill="#0000d0"/>
<rect x="61.00" y="1790.00" width="1.00" height="47.00" fill="#101078"/>
<rect x="59.00" y="1837.00" width="5.00" height="1.00" fill="#101078"/>
<rect x="68.00" y="1755.00" width="1.00" height="82.00" fill="#a01818"/>
<rect x="66.00" y="1755.00" width="5.00" height="71.00" fill="#e00000"/>
<rect x="74.00" y="1720.00" width="1.00" height="35.00" fill="#a01818"/>
<rect x="72.00" y="1720.00" width="5.00" height="36.00" fill="#e00000"/>
<rect x="81.00" y="1720.00" width="1.00" height="23.00" fill="#101078"/>
<rect x="79.00" y="1731.00" width="5.00" height="13.00" fill="#0000d0"/>
<rect x="87.00" y="1708.00" width="1.00" height="59.00" fill="#a01818"/>
<rect x="85.00" y="1708.00" width="5.00" height="36.00" fill="#e00000"/>
<rect x="94.00" y="1684.00" width="1.00" height="36.00" fill="#a01818"/>
<rect x="92.00" y="1696.00" width="5.00" height="13.00" fill="#e00000"/>
<rect x="100.00" y="1661.00" width="1.00" height="47.00" fill="#a01818"/>
<rect x="98.00" y="1673.00" width="5.00" height="24.00" fill="#e00000"/>
<rect x="107.00" y="1638.00" width="1.00" height="46.00" fill="#a01818"/>
<rect x="105.00" y="1638.00" width="5.00" height="47.00" fill="#e00000"/>
<rect x="114.00" y="1661.00" width="1.00" height="12.00" fill="#a01818"/>
<rect x="112.00" y="1661.00" width="5.00" height="13.00" fill="#e00000"/>
<rect x="120.00" y="1649.00" width="1.00" height="35.00" fill="#101078"/>
<rect x="118.00" y="1661.00" width="5.00" height="13.00" fill="#0000d0"/>
<rect x="127.00" y="1673.00" width="1.00" height="23.00" fill="#101078"/>
<rect x="125.00" y="1673.00" width="5.00" height="12.00" fill="#0000d0"/>
<rect x="133.00" y="1684.00" width="1.00" height="24.00" fill="#101078"/>
<rect x="131.00" y="1696.00" width="5.00" height="13.00" fill="#0000d0"/>
<rect x="140.00" y="1684.00" width="1.00" height="24.00" fill="#a01818"/>
<rect x="138.00" y="1684.00" width="5.00" height="25.00" fill="#e00000"/>
<rect x="146.00" y="1673.00" width="1.00" height="11.00" fill="#a01818"/>
<rect x="144.00" y="1673.00" width="5.00" height="12.00" fill="#e00000"/>
<rect x="153.00" y="1661.00" width="1.00" height="23.00" fill="#101078"/>
<rect x="151.00" y="1673.00" width="5.00" height="12.00" fill="#0000d0"/>
<rect x="159.00" y="1673.00" width="1.00" height="35.00" fill="#101078"/>
<rect x="157.00" y="1684.00" width="5.00" height="13.00" fill="#0000d0"/>
<rect x="166.00" y="1673.00" width="1.00" height="23.00" fill="#a01818"/>
<rect x="164.00" y="1684.00" width="5.00" height="13.00" fill="#e00000"/>
<rect x="173.00" y="1673.00" width="1.00" height="23.00" fill="#a01818"/>
<rect x="171.00" y="1684.00" width="5.00" height="1.00" fill="#a01818"/>
<rect x="179.00" y="1673.00" width="1.00" height="35.00" fill="#a01818"/>
<rect x="177.00" y="1684.00" width="5.00" height="1.00" fill="#a01818"/>
<rect x="186.00" y="1649.00" width="1.00" height="35.00" fill="#a01818"/>
<rect x="184.00" y="1661.00" width="5.00" height="24.00" fill="#e00000"/>
<rect x="192.00" y="1649.00" width="1.00" height="12.00" fill="#101078"/>
<rect x="190.00" y="1649.00" width="5.00" height="13.00" fill="#0000d0"/>
<rect x="199.00" y="1649.00" width="1.00" height="24.00" fill="#101078"/>
<rect x="197.00" y="1661.00" width="5.00" height="13.00" fill="#0000d0"/>
<rect x="205.00" y="1638.00" width="1.00" height="35.00" fill="#a01818"/>
<rect x="203.00" y="1649.00" width="5.00" height="25.00" fill="#e00000"/>
<rect x="210.00" y="1556.00" width="5.00" height="1.00" fill="#a01818"/>
<rect x="219.00" y="1532.00" width="1.00" height="152.00" fill="#101078"/>
<rect x="217.00" y="1556.00" width="5.00" height="47.00" fill="#0000d0"/>
<rect x="225.00" y="1579.00" width="1.00" height="59.00" fill="#101078"/>
<rect x="223.00" y="1602.00" width="5.00" height="25.00" fill="#0000d0"/>
<rect x="232.00" y="1614.00" width="1.00" height="47.00" fill="#101078"/>
<rect x="230.00" y="1626.00" width="5.00" height="36.00" fill="#0000d0"/>
<rect x="238.00" y="1602.00" width="1.00" height="59.00" fill="#a01818"/>
<rect x="236.00" y="1638.00" width="5.00" height="24.00" fill="#e00000"/>
<rect x="245.00" y="1591.00" width="1.00" height="47.00" fill="#a01818"/>
<rect x="243.00" y="1638.00" width="5.00" height="1.00" fill="#a01818"/>
<rect x="251.00" y="1591.00" width="1.00" height="11.00" fill="#a01818"/>
<rect x="249.00" y="1591.00" width="5.00" height="12.00" fill="#e00000"/>
<rect x="258.00" y="1591.00" width="1.00" height="23.00" fill="#101078"/>
<rect x="256.00" y="1591.00" width="5.00" height="12.00" fill="#0000d0"/>
<rect x="264.00" y="1579.00" width="1.00" height="59.00" fill="#a01818"/>
<rect x="262.00" y="1602.00" width="5.00" height="13.00" fill="#e00000"/>
<rect x="271.00" y="1579.00" width="1.00" height="35.00" fill="#a01818"/>
<rect x="269.00" y="1579.00" width="5.00" height="36.00" fill="#e00000"/>
<rect x="278.00" y="1532.00" width="1.00" height="59.00" fill="#a01818"/>
<rect x="276.00" y="1544.00" width="5.00" height="36.00" fill="#e00000"/>
<rect x="284.00" y="1544.00" width="1.00" height="23.00" fill="#101078"/>
<rect x="282.00" y="1544.00" width="5.00" height="24.00" fill="#0000d0"/>
<rect x="291.00" y="1567.00" width="1.00" height="24.00" fill="#101078"/>
<rect x="289.00" y="1567.00" width="5.00" height="25.00" fill="#0000d0"/>
<rect x="297.00" y="1579.00" width="1.00" height="35.00" fill="#101078"/>
<rect x="295.00" y="1591.00" width="5.00" height="12.00" fill="#0000d0"/>
<rect x="304.00" y="1591.00" width="1.00" height="23.00" fill="#a01818"/>
<rect x="302.00" y="1591.00" width="5.00" height="12.00" fill="#e00000"/>
<rect x="308.00" y="1591.00" width="5.00" height="1.00" fill="#a01818"/>
<rect x="317.00" y="1591.00" width="1.00" height="23.00" fill="#101078"/>
<rect x="315.00" y="1591.00" width="5.00" height="24.00" fill="#0000d0"/>
<rect x="322.00" y="1614.00" width="5.00" height="1.00" fill="#a01818"/>
<rect x="330.00" y="1591.00" width="1.00" height="23.00" fill="#a01818"/>
<rect x="328.00" y="1591.00" width="5.00" height="24.00" fill="#e00000"/>
<rect x="337.00" y="1591.00" width="1.00" height="11.00" fill="#a01818"/>
<rect x="335.00" y="1591.00" width="5.00" height="1.00" fill="#a01818"/>
<rect x="343.00" y="1591.00" width="1.00" height="11.00" fill="#a01818"/>
<rect x="341.00" y="1591.00" width="5.00" height="1.00" fill="#a01818"/>
<rect x="350.00" y="1591.00" width="1.00" height="23.00" fill="#a01818"/>
<rect x="348.00" y="1591.00" width="5.00" height="1.00" fill="#a01818"/>
<rect x="356.00" y="1591.00" width="1.00" height="23.00" fill="#101078"/>
<rect x="354.00" y="1591.00" width="5.00" height="24.00" fill="#0000d0"/>
<rect x="363.00" y="1602.00" width="1.00" height="12.00" fill="#101078"/>
<rect x="361.00" y="1602.00" width="5.00" height="13.00" fill="#0000d0"/>
<rect x="370.00" y="1591.00" width="1.00" height="23.00" fill="#a01818"/>
<rect x="368.00" y="1591.00" width="5.00" height="24.00" fill="#e00000"/>
<rect x="376.00" y="1591.00" width="1.00" height="11.00" fill="#a01818"/>
<rect x="374.00" y="1591.00" width="5.00" height="1.00" fill="#a01818"/>
<rect x="383.00" y="1591.00" width="1.00" height="11.00" fill="#a01818"/>
<rect x="381.00" y="1591.00" width="5.00" height="12.00" fill="#e00000"/>
<rect x="387.00" y="1591.00" width="5.00" height="1.00" fill="#a01818"/>
<rect x="396.00" y="1520.00" width="1.00" height="82.00" fill="#a01818"/>
<rect x="394.00" y="1567.00" width="5.00" height="25.00" fill="#e00000"/>
<rect x="402.00" y="1567.00" width="1.00" height="24.00" fill="#101078"/>
<rect x="400.00" y="1579.00" width="5.00" height="13.00" fill="#0000d0"/>
<rect x="409.00" y="1579.00" width="1.00" height="23.00" fill="#101078"/>
<rect x="407.00" y="1579.00" width="5.00" height="13.00" fill="#0000d0"/>
<rect x="415.00" y="1556.00" width="1.00" height="35.00" fill="#a01818"/>
<rect x="413.00" y="1567.00" width="5.00" height="25.00" fill="#e00000"/>
<rect x="422.00" y="1556.00" width="1.00" height="35.00" fill="#a01818"/>
<rect x="420.00" y="1567.00" width="5.00" height="1.00" fill="#a01818"/>
<rect x="429.00" y="1567.00" width="1.00" height="35.00" fill="#a01818"/>
<rect x="427.00" y="1567.00" width="5.00" height="1.00" fill="#a01818"/>
<rect x="435.00" y="1567.00" width="1.00" height="12.00" fill="#a01818"/>
<rect x="433.00" y="1567.00" width="5.00" height="1.00" fill="#a01818"/>
<rect x="442.00" y="1556.00" width="1.00" height="11.00" fill="#a01818"/>
<rect x="440.00" y="1567.00" width="5.00" height="1.00" fill="#a01818"/>
<rect x="448.00" y="1544.00" width="1.00" height="23.00" fill="#a01818"/>
<rect x="446.00" y="1544.00" width="5.00" height="12.00" fill="#e00000"/>
<rect x="455.00" y="1544.00" width="1.00" height="12.00" fill="#101078"/>
<rect x="453.00" y="1544.00" width="5.00" height="12.00" fill="#0000d0"/>
<rect x="461.00" y="1544.00" width="1.00" height="12.00" fill="#a01818"/>
<rect x="459.00" y="1544.00" width="5.00" height="12.00" fill="#e00000"/>
<rect x="468.00" y="1532.00" width="1.00" height="12.00" fill="#a01818"/>
<rect x="466.00" y="1544.00" width="5.00" height="1.00" fill="#a01818"/>
<rect x="475.00" y="1544.00" width="1.00" height="12.00" fill="#a01818"/>
<rect x="473.00" y="1544.00" width="5.00" height="1.00" fill="#a01818"/>
<rect x="481.00" y="1532.00" width="1.00" height="12.00" fill="#a01818"/>
<rect x="479.00" y="1532.00" width="5.00" height="13.00" fill="#e00000"/>
<rect x="488.00" y="1532.00" width="1.00" height="24.00" fill="#101078"/>
<rect x="486.00" y="1532.00" width="5.00" height="24.00" fill="#0000d0"/>
<rect x="494.00" y="1532.00" width="1.00" height="35.00" fill="#101078"/>
<rect x="492.00" y="1544.00" width="5.00" height="24.00" fill="#0000d0"/>
<rect x="501.00" y="1556.00" width="1.00" height="23.00" fill="#101078"/>
<rect x="499.00" y="1556.00" width="5.00" height="24.00" fill="#0000d0"/>
<rect x="505.00" y="1567.00" width="5.00" height="1.00" fill="#a01818"/>
<rect x="514.00" y="1556.00" width="1.00" height="11.00" fill="#a01818"/>
<rect x="512.00" y="1556.00" width="5.00" height="12.00" fill="#e00000"/>
<rect x="521.00" y="1556.00" width="1.00" height="11.00" fill="#101078"/>
<rect x="519.00" y="1556.00" width="5.00" height="12.00" fill="#0000d0"/>
<rect x="527.00" y="1556.00" width="1.00" height="11.00" fill="#101078"/>
<rect x="525.00" y="1556.00" width="5.00" height="12.00" fill="#0000d0"/>
<rect x="534.00" y="1567.00" width="1.00" height="24.00" fill="#a01818"/>
<rect x="532.00" y="1567.00" width="5.00" height="1.00" fill="#a01818"/>
<rect x="540.00" y="1556.00" width="1.00" height="23.00" fill="#a01818"/>
<rect x="538.00" y="1556.00" width="5.00" height="24.00" fill="#e00000"/>
<rect x="547.00" y="1556.00" width="1.00" height="11.00" fill="#a01818"/>
<rect x="545.00" y="1556.00" width="5.00" height="1.00" fill="#a01818"/>
<rect x="553.00" y="1556.00" width="1.00" height="11.00" fill="#a01818"/>
<rect x="551.00" y="1556.00" width="5.00" height="1.00" fill="#a01818"/>
<rect x="560.00" y="1556.00" width="1.00" height="23.00" fill="#101078"/>
<rect x="558.00" y="1556.00" width="5.00" height="12.00" fill="#0000d0"/>
<rect x="564.00" y="1567.00" width="5.00" height="1.00" fill="#a01818"/>
<rect x="573.00" y="1509.00" width="1.00" height="47.00" fill="#a01818"/>
<rect x="571.00" y="1544.00" width="5.00" height="12.00" fill="#e00000"/>
<rect x="580.00" y="1520.00" width="1.00" height="36.00" fill="#101078"/>
<rect x="578.00" y="1520.00" width="5.00" height="36.00" fill="#0000d0"/>
<rect x="586.00" y="1544.00" width="1.00" height="12.00" fill="#101078"/>
<rect x="584.00" y="1544.00" width="5.00" height="12.00" fill="#0000d0"/>
<rect x="593.00" y="1556.00" width="1.00" height="23.00" fill="#101078"/>
<rect x="591.00" y="1556.00" width="5.00" height="12.00" fill="#0000d0"/>
<rect x="599.00" y="1556.00" width="1.00" height="23.00" fill="#a01818"/>
<rect x="597.00" y="1556.00" width="5.00" height="12.00" fill="#e00000"/>
<rect x="606.00" y="1544.00" width="1.00" height="23.00" fill="#a01818"/>
<rect x="604.00" y="1544.00" width="5.00" height="12.00" fill="#e00000"/>
<rect x="612.00" y="1544.00" width="1.00" height="23.00" fill="#a01818"/>
<rect x="610.00" y="1544.00" width="5.00" height="1.00" fill="#a01818"/>
<rect x="619.00" y="1544.00" width="1.00" height="12.00" fill="#101078"/>
<rect x="617.00" y="1544.00" width="5.00" height="12.00" fill="#0000d0"/>
<rect x="626.00" y="1556.00" width="1.00" height="23.00" fill="#101078"/>
<rect x="624.00" y="1556.00" width="5.00" height="12.00" fill="#0000d0"/>
<rect x="632.00" y="1556.00" width="1.00" height="23.00" fill="#a01818"/>
<rect x="630.00" y="1567.00" width="5.00" height="1.00" fill="#a01818"/>
<rect x="639.00" y="1567.00" width="1.00" height="12.00" fill="#a01818"/>
<rect x="637.00" y="1567.00" width="5.00" height="1.00" fill="#a01818"/>
<rect x="645.00" y="1556.00" width="1.00" height="11.00" fill="#a01818"/>
<rect x="643.00" y="1567.00" width="5.00" height="1.00" fill="#a01818"/>
<rect x="652.00" y="1556.00" width="1.00" height="11.00" fill="#101078"/>
<rect x="650.00" y="1556.00" width="5.00" height="12.00" fill="#0000d0"/>
<rect x="658.00" y="1556.00" width="1.00" height="23.00" fill="#a01818"/>
<rect x="656.00" y="1556.00" width="5.00" height="12.00" fill="#e00000"/>
<rect x="665.00" y="1556.00" width="1.00" height="11.00" fill="#101078"/>
<rect x="663.00" y="1556.00" width="5.00" height="12.00" fill="#0000d0"/>
<rect x="671.00" y="1556.00" width="1.00" height="11.00" fill="#a01818"/>
<rect x="669.00" y="1567.00" width="5.00" height="1.00" fill="#a01818"/>
<rect x="678.00" y="1556.00" width="1.00" height="11.00" fill="#101078"/>
<rect x="676.00" y="1556.00" width="5.00" height="12.00" fill="#0000d0"/>
<rect x="685.00" y="1556.00" width="1.00" height="11.00" fill="#a01818"/>
<rect x="683.00" y="1567.00" width="5.00" height="1.00" fill="#a01818"/>
<rect x="691.00" y="1567.00" width="1.00" height="12.00" fill="#101078"/>
<rect x="689.00" y="1567.00" width="5.00" height="13.00" fill="#0000d0"/>
<rect x="698.00" y="1579.00" width="1.00" height="12.00" fill="#101078"/>
<rect x="696.00" y="1579.00" width="5.00" height="13.00" fill="#0000d0"/>
<rect x="704.00" y="1579.00" width="1.00" height="23.00" fill="#a01818"/>
<rect x="702.00" y="1591.00" width="5.00" height="1.00" fill="#a01818"/>
<rect x="711.00" y="1579.00" width="1.00" height="23.00" fill="#101078"/>
<rect x="709.00" y="1591.00" width="5.00" height="12.00" fill="#0000d0"/>
<rect x="717.00" y="1579.00" width="1.00" height="35.00" fill="#101078"/>
<rect x="715.00" y="1602.00" width="5.00" height="13.00" fill="#0000d0"/>
<rect x="724.00" y="1579.00" width="1.00" height="23.00" fill="#a01818"/>
<rect x="722.00" y="1579.00" width="5.00" height="13.00" fill="#e00000"/>
<rect x="731.00" y="1567.00" width="1.00" height="12.00" fill="#a01818"/>
<rect x="729.00" y="1567.00" width="5.00" height="13.00" fill="#e00000"/>
<rect x="737.00" y="1567.00" width="1.00" height="12.00" fill="#a01818"/>
<rect x="735.00" y="1567.00" width="5.00" height="13.00" fill="#e00000"/>
<rect x="742.00" y="1567.00" width="5.00" height="1.00" fill="#a01818"/>
<rect x="750.00" y="1532.00" width="1.00" height="70.00" fill="#a01818"/>
<rect x="748.00" y="1556.00" width="5.00" height="12.00" fill="#e00000"/>
<rect x="757.00" y="1473.00" width="1.00" height="83.00" fill="#a01818"/>
<rect x="755.00" y="1485.00" width="5.00" height="71.00" fill="#e00000"/>
<rect x="763.00" y="1485.00" width="1.00" height="82.00" fill="#101078"/>
<rect x="761.00" y="1485.00" width="5.00" height="36.00" fill="#0000d0"/>
<rect x="770.00" y="1520.00" width="1.00" height="36.00" fill="#101078"/>
<rect x="768.00" y="1520.00" width="5.00" height="36.00" fill="#0000d0"/>
<rect x="777.00" y="1544.00" width="1.00" height="35.00" fill="#101078"/>
<rect x="775.00" y="1544.00" width="5.00" height="24.00" fill="#0000d0"/>
<rect x="783.00" y="1556.00" width="1.00" height="35.00" fill="#101078"/>
<rect x="781.00" y="1567.00" width="5.00" height="13.00" fill="#0000d0"/>
<rect x="790.00" y="1544.00" width="1.00" height="35.00" fill="#a01818"/>
<rect x="788.00" y="1556.00" width="5.00" height="24.00" fill="#e00000"/>
<rect x="796.00" y="1556.00" width="1.00" height="23.00" fill="#a01818"/>
<rect x="794.00" y="1556.00" width="5.00" height="1.00" fill="#a01818"/>
<rect x="803.00" y="1544.00" width="1.00" height="23.00" fill="#a01818"/>
<rect x="801.00" y="1544.00" width="5.00" height="12.00" fill="#e00000"/>
<rect x="809.00" y="1532.00" width="1.00" height="35.00" fill="#a01818"/>
<rect x="807.00" y="1544.00" width="5.00" height="1.00" fill="#a01818"/>
<rect x="816.00" y="1532.00" width="1.00" height="24.00" fill="#a01818"/>
<rect x="814.00" y="1532.00" width="5.00" height="13.00" fill="#e00000"/>
<rect x="822.00" y="1544.00" width="1.00" height="12.00" fill="#a01818"/>
<rect x="820.00" y="1544.00" width="5.00" height="12.00" fill="#e00000"/>
<rect x="829.00" y="1556.00" width="1.00" height="11.00" fill="#101078"/>
<rect x="827.00" y="1556.00" width="5.00" height="12.00" fill="#0000d0"/>
<rect x="836.00" y="1556.00" width="1.00" height="11.00" fill="#a01818"/>
<rect x="834.00" y="1556.00" width="5.00" height="1.00" fill="#a01818"/>
<rect x="842.00" y="1556.00" width="1.00" height="11.00" fill="#101078"/>
<rect x="840.00" y="1556.00" width="5.00" height="12.00" fill="#0000d0"/>
<rect x="849.00" y="1556.00" width="1.00" height="23.00" fill="#a01818"/>
<rect x="847.00" y="1556.00" width="5.00" height="12.00" fill="#e00000"/>
<rect x="855.00" y="1556.00" width="1.00" height="11.00" fill="#a01818"/>
<rect x="853.00" y="1556.00" width="5.00" height="1.00" fill="#a01818"/>
<rect x="862.00" y="1556.00" width="1.00" height="23.00" fill="#a01818"/>
<rect x="860.00" y="1556.00" width="5.00" height="1.00" fill="#a01818"/>
<rect x="868.00" y="1556.00" width="1.00" height="23.00" fill="#101078"/>
<rect x="866.00" y="1567.00" width="5.00" height="1.00" fill="#101078"/>
<rect x="875.00" y="1556.00" width="1.00" height="35.00" fill="#a01818"/>
<rect x="873.00" y="1567.00" width="5.00" height="13.00" fill="#e00000"/>
<rect x="882.00" y="1567.00" width="1.00" height="24.00" fill="#101078"/>
<rect x="880.00" y="1567.00" width="5.00" height="13.00" fill="#0000d0"/>
<rect x="888.00" y="1567.00" width="1.00" height="12.00" fill="#a01818"/>
<rect x="886.00" y="1567.00" width="5.00" height="13.00" fill="#e00000"/>
<rect x="895.00" y="1567.00" width="1.00" height="12.00" fill="#101078"/>
<rect x="893.00" y="1579.00" width="5.00" height="1.00" fill="#101078"/>
<rect x="901.00" y="1556.00" width="1.00" height="23.00" fill="#a01818"/>
<rect x="899.00" y="1556.00" width="5.00" height="24.00" fill="#e00000"/>
<rect x="908.00" y="1544.00" width="1.00" height="23.00" fill="#a01818"/>
<rect x="906.00" y="1544.00" width="5.00" height="12.00" fill="#e00000"/>
<rect x="914.00" y="1544.00" width="1.00" height="12.00" fill="#a01818"/>
<rect x="912.00" y="1544.00" width="5.00" height="12.00" fill="#e00000"/>
<rect x="919.00" y="1544.00" width="5.00" height="1.00" fill="#a01818"/>
<rect x="928.00" y="1520.00" width="1.00" height="71.00" fill="#101078"/>
<rect x="926.00" y="1544.00" width="5.00" height="36.00" fill="#0000d0"/>
<rect x="934.00" y="1544.00" width="1.00" height="35.00" fill="#a01818"/>
<rect x="932.00" y="1579.00" width="5.00" height="1.00" fill="#a01818"/>
<rect x="941.00" y="1556.00" width="1.00" height="23.00" fill="#101078"/>
<rect x="939.00" y="1556.00" width="5.00" height="24.00" fill="#0000d0"/>
<rect x="947.00" y="1556.00" width="1.00" height="23.00" fill="#a01818"/>
<rect x="945.00" y="1567.00" width="5.00" height="13.00" fill="#e00000"/>
<rect x="954.00" y="1556.00" width="1.00" height="35.00" fill="#101078"/>
<rect x="952.00" y="1579.00" width="5.00" height="13.00" fill="#0000d0"/>
<rect x="960.00" y="1579.00" width="1.00" height="12.00" fill="#a01818"/>
<rect x="958.00" y="1579.00" width="5.00" height="13.00" fill="#e00000"/>
<rect x="967.00" y="1579.00" width="1.00" height="23.00" fill="#101078"/>
<rect x="965.00" y="1579.00" width="5.00" height="13.00" fill="#0000d0"/>
<rect x="973.00" y="1591.00" width="1.00" height="11.00" fill="#101078"/>
<rect x="971.00" y="1591.00" width="5.00" height="12.00" fill="#0000d0"/>
<rect x="980.00" y="1556.00" width="1.00" height="35.00" fill="#a01818"/>
<rect x="978.00" y="1556.00" width="5.00" height="36.00" fill="#e00000"/>
<rect x="987.00" y="1556.00" width="1.00" height="23.00" fill="#101078"/>
<rect x="985.00" y="1567.00" width="5.00" height="1.00" fill="#101078"/>
<rect x="993.00" y="1567.00" width="1.00" height="35.00" fill="#101078"/>
<rect x="991.00" y="1579.00" width="5.00" height="1.00" fill="#101078"/>
<rect x="1000.00" y="1567.00" width="1.00" height="12.00" fill="#101078"/>
<rect x="998.00" y="1567.00" width="5.00" height="13.00" fill="#0000d0"/>
<rect x="1006.00" y="1567.00" width="1.00" height="12.00" fill="#a01818"/>
<rect x="1004.00" y="1567.00" width="5.00" height="13.00" fill="#e00000"/>
<rect x="1013.00" y="1579.00" width="1.00" height="12.00" fill="#101078"/>
<rect x="1011.00" y="1579.00" width="5.00" height="1.00" fill="#101078"/>
<rect x="1017.00" y="1579.00" width="5.00" height="1.00" fill="#a01818"/>
<rect x="1026.00" y="1567.00" width="1.00" height="24.00" fill="#a01818"/>
<rect x="1024.00" y="1567.00" width="5.00" height="13.00" fill="#e00000"/>
<rect x="1033.00" y="1567.00" width="1.00" height="35.00" fill="#101078"/>
<rect x="1031.00" y="1579.00" width="5.00" height="1.00" fill="#101078"/>
<rect x="1039.00" y="1579.00" width="1.00" height="23.00" fill="#101078"/>
<rect x="1037.00" y="1579.00" width="5.00" height="13.00" fill="#0000d0"/>
<rect x="1046.00" y="1579.00" width="1.00" height="23.00" fill="#a01818"/>
<rect x="1044.00" y="1579.00" width="5.00" height="13.00" fill="#e00000"/>
<rect x="1052.00" y="1579.00" width="1.00" height="12.00" fill="#101078"/>
<rect x="1050.00" y="1579.00" width="5.00" height="13.00" fill="#0000d0"/>
<rect x="1059.00" y="1579.00" width="1.00" height="12.00" fill="#a01818"/>
<rect x="1057.00" y="1579.00" width="5.00" height="13.00" fill="#e00000"/>
<rect x="1065.00" y="1579.00" width="1.00" height="35.00" fill="#101078"/>
<rect x="1063.00" y="1591.00" width="5.00" height="24.00" fill="#0000d0"/>
<rect x="1072.00" y="1602.00" width="1.00" height="12.00" fill="#a01818"/>
<rect x="1070.00" y="1602.00" width="5.00" height="1.00" fill="#a01818"/>
<rect x="1078.00" y="1602.00" width="1.00" height="12.00" fill="#a01818"/>
<rect x="1076.00" y="1602.00" width="5.00" height="1.00" fill="#a01818"/>
<rect x="1085.00" y="1591.00" width="1.00" height="23.00" fill="#a01818"/>
<rect x="1083.00" y="1591.00" width="5.00" height="24.00" fill="#e00000"/>
<rect x="1092.00" y="1591.00" width="1.00" height="11.00" fill="#a01818"/>
<rect x="1090.00" y="1591.00" width="5.00" height="1.00" fill="#a01818"/>
<rect x="1096.00" y="1602.00" width="5.00" height="1.00" fill="#101078"/>
<rect x="1105.00" y="1591.00" width="1.00" height="47.00" fill="#101078"/>
<rect x="1103.00" y="1626.00" width="5.00" height="1.00" fill="#101078"/>
<rect x="1111.00" y="1579.00" width="1.00" height="59.00" fill="#a01818"/>
<rect x="1109.00" y="1614.00" width="5.00" height="13.00" fill="#e00000"/>
<rect x="1118.00" y="1579.00" width="1.00" height="35.00" fill="#a01818"/>
<rect x="1116.00" y="1591.00" width="5.00" height="24.00" fill="#e00000"/>
<rect x="1124.00" y="1591.00" width="1.00" height="11.00" fill="#101078"/>
<rect x="1122.00" y="1591.00" width="5.00" height="12.00" fill="#0000d0"/>
<rect x="1131.00" y="1591.00" width="1.00" height="23.00" fill="#a01818"/>
<rect x="1129.00" y="1602.00" width="5.00" height="1.00" fill="#a01818"/>
<rect x="1138.00" y="1602.00" width="1.00" height="24.00" fill="#101078"/>
<rect x="1136.00" y="1602.00" width="5.00" height="25.00" fill="#0000d0"/>
<rect x="1144.00" y="1614.00" width="1.00" height="12.00" fill="#a01818"/>
<rect x="1142.00" y="1614.00" width="5.00" height="1.00" fill="#a01818"/>
<rect x="1151.00" y="1626.00" width="1.00" height="35.00" fill="#101078"/>
<rect x="1149.00" y="1626.00" width="5.00" height="24.00" fill="#0000d0"/>
<rect x="1157.00" y="1638.00" width="1.00" height="23.00" fill="#a01818"/>
<rect x="1155.00" y="1638.00" width="5.00" height="12.00" fill="#e00000"/>
<rect x="1164.00" y="1638.00" width="1.00" height="11.00" fill="#a01818"/>
<rect x="1162.00" y="1638.00" width="5.00" height="1.00" fill="#a01818"/>
<rect x="1170.00" y="1626.00" width="1.00" height="35.00" fill="#a01818"/>
<rect x="1168.00" y="1626.00" width="5.00" height="13.00" fill="#e00000"/>
<rect x="1177.00" y="1626.00" width="1.00" height="35.00" fill="#a01818"/>
<rect x="1175.00" y="1626.00" width="5.00" height="24.00" fill="#e00000"/>
<rect x="1184.00" y="1602.00" width="1.00" height="24.00" fill="#a01818"/>
<rect x="1182.00" y="1602.00" width="5.00" height="25.00" fill="#e00000"/>
<rect x="1190.00" y="1602.00" width="1.00" height="24.00" fill="#101078"/>
<rect x="1188.00" y="1614.00" width="5.00" height="1.00" fill="#101078"/>
<rect x="1197.00" y="1602.00" width="1.00" height="12.00" fill="#a01818"/>
<rect x="1195.00" y="1602.00" width="5.00" height="13.00" fill="#e00000"/>
<rect x="1203.00" y="1602.00" width="1.00" height="24.00" fill="#101078"/>
<rect x="1201.00" y="1602.00" width="5.00" height="13.00" fill="#0000d0"/>
<rect x="1210.00" y="1602.00" width="1.00" height="24.00" fill="#a01818"/>
<rect x="1208.00" y="1614.00" width="5.00" height="1.00" fill="#a01818"/>
<rect x="1216.00" y="1602.00" width="1.00" height="24.00" fill="#a01818"/>
<rect x="1214.00" y="1614.00" width="5.00" height="1.00" fill="#a01818"/>
<rect x="1223.00" y="1602.00" width="1.00" height="12.00" fill="#a01818"/>
<rect x="1221.00" y="1614.00" width="5.00" height="1.00" fill="#a01818"/>
<rect x="1229.00" y="1591.00" width="1.00" height="23.00" fill="#a01818"/>
<rect x="1227.00" y="1591.00" width="5.00" height="24.00" fill="#e00000"/>
<rect x="1236.00" y="1602.00" width="1.00" height="24.00" fill="#101078"/>
<rect x="1234.00" y="1602.00" width="5.00" height="1.00" fill="#101078"/>
<rect x="1243.00" y="1602.00" width="1.00" height="12.00" fill="#a01818"/>
<rect x="1241.00" y="1602.00" width="5.00" height="1.00" fill="#a01818"/>
<rect x="1249.00" y="1602.00" width="1.00" height="24.00" fill="#101078"/>
<rect x="1247.00" y="1614.00" width="5.00" height="1.00" fill="#101078"/>
<rect x="1256.00" y="1602.00" width="1.00" height="24.00" fill="#a01818"/>
<rect x="1254.00" y="1602.00" width="5.00" height="13.00" fill="#e00000"/>
<rect x="1262.00" y="1602.00" width="1.00" height="12.00" fill="#101078"/>
<rect x="1260.00" y="1614.00" width="5.00" height="1.00" fill="#101078"/>
<rect x="1269.00" y="1602.00" width="1.00" height="24.00" fill="#a01818"/>
<rect x="1267.00" y="1602.00" width="5.00" height="13.00" fill="#e00000"/>
<rect x="1273.00" y="1602.00" width="5.00" height="1.00" fill="#a01818"/>
<rect x="1282.00" y="1602.00" width="1.00" height="59.00" fill="#101078"/>
<rect x="1280.00" y="1649.00" width="5.00" height="1.00" fill="#101078"/>
<rect x="1289.00" y="1614.00" width="1.00" height="47.00" fill="#a01818"/>
<rect x="1287.00" y="1638.00" width="5.00" height="1.00" fill="#a01818"/>
<rect x="1295.00" y="1614.00" width="1.00" height="35.00" fill="#101078"/>
<rect x="1293.00" y="1626.00" width="5.00" height="24.00" fill="#0000d0"/>
<rect x="1302.00" y="1638.00" width="1.00" height="23.00" fill="#a01818"/>
<rect x="1300.00" y="1638.00" width="5.00" height="12.00" fill="#e00000"/>
<rect x="1308.00" y="1626.00" width="1.00" height="12.00" fill="#a01818"/>
<rect x="1306.00" y="1638.00" width="5.00" height="1.00" fill="#a01818"/>
<rect x="1315.00" y="1602.00" width="1.00" height="24.00" fill="#a01818"/>
<rect x="1313.00" y="1602.00" width="5.00" height="25.00" fill="#e00000"/>
<rect x="1321.00" y="1602.00" width="1.00" height="24.00" fill="#101078"/>
<rect x="1319.00" y="1614.00" width="5.00" height="13.00" fill="#0000d0"/>
<rect x="1328.00" y="1602.00" width="1.00" height="24.00" fill="#a01818"/>
<rect x="1326.00" y="1602.00" width="5.00" height="13.00" fill="#e00000"/>
<rect x="1335.00" y="1602.00" width="1.00" height="24.00" fill="#101078"/>
<rect x="1333.00" y="1602.00" width="5.00" height="13.00" fill="#0000d0"/>
<rect x="1341.00" y="1567.00" width="1.00" height="47.00" fill="#a01818"/>
<rect x="1339.00" y="1567.00" width="5.00" height="48.00" fill="#e00000"/>
<rect x="1348.00" y="1544.00" width="1.00" height="35.00" fill="#a01818"/>
<rect x="1346.00" y="1544.00" width="5.00" height="36.00" fill="#e00000"/>
<rect x="1354.00" y="1520.00" width="1.00" height="36.00" fill="#a01818"/>
<rect x="1352.00" y="1520.00" width="5.00" height="25.00" fill="#e00000"/>
<rect x="1361.00" y="1509.00" width="1.00" height="35.00" fill="#101078"/>
<rect x="1359.00" y="1520.00" width="5.00" height="13.00" fill="#0000d0"/>
<rect x="1367.00" y="1532.00" width="1.00" height="24.00" fill="#a01818"/>
<rect x="1365.00" y="1532.00" width="5.00" height="1.00" fill="#a01818"/>
<rect x="1374.00" y="1532.00" width="1.00" height="12.00" fill="#101078"/>
<rect x="1372.00" y="1532.00" width="5.00" height="13.00" fill="#0000d0"/>
<rect x="1380.00" y="1122.00" width="1.00" height="410.00" fill="#a01818"/>
<rect x="1378.00" y="1122.00" width="5.00" height="411.00" fill="#e00000"/>
<rect x="1387.00" y="1016.00" width="1.00" height="446.00" fill="#101078"/>
<rect x="1385.00" y="1087.00" width="5.00" height="270.00" fill="#0000d0"/>
<rect x="1394.00" y="1286.00" width="1.00" height="129.00" fill="#101078"/>
<rect x="1392.00" y="1368.00" width="5.00" height="24.00" fill="#0000d0"/>
<rect x="1400.00" y="1309.00" width="1.00" height="118.00" fill="#101078"/>
<rect x="1398.00" y="1415.00" width="5.00" height="1.00" fill="#101078"/>
<rect x="1407.00" y="1333.00" width="1.00" height="94.00" fill="#a01818"/>
<rect x="1405.00" y="1368.00" width="5.00" height="48.00" fill="#e00000"/>
<rect x="1413.00" y="1368.00" width="1.00" height="59.00" fill="#101078"/>
<rect x="1411.00" y="1380.00" width="5.00" height="36.00" fill="#0000d0"/>
<rect x="1420.00" y="1403.00" width="1.00" height="47.00" fill="#a01818"/>
<rect x="1418.00" y="1415.00" width="5.00" height="1.00" fill="#a01818"/>
<rect x="1426.00" y="1403.00" width="1.00" height="47.00" fill="#101078"/>
<rect x="1424.00" y="1403.00" width="5.00" height="25.00" fill="#0000d0"/>
<rect x="1433.00" y="1427.00" width="1.00" height="35.00" fill="#a01818"/>
<rect x="1431.00" y="1427.00" width="5.00" height="1.00" fill="#a01818"/>
<rect x="1440.00" y="1368.00" width="1.00" height="94.00" fill="#a01818"/>
<rect x="1438.00" y="1415.00" width="5.00" height="24.00" fill="#e00000"/>
<rect x="1446.00" y="1403.00" width="1.00" height="47.00" fill="#101078"/>
<rect x="1444.00" y="1415.00" width="5.00" height="13.00" fill="#0000d0"/>
<rect x="1451.00" y="1380.00" width="5.00" height="1.00" fill="#a01818"/>
<rect x="13.00" y="1931.50" width="5.00" height="2.90" fill="#0d7ac0"/>
<rect x="20.00" y="1931.50" width="5.00" height="2.90" fill="#0d7ac0"/>
<rect x="26.00" y="1931.50" width="5.00" height="2.90" fill="#0d7ac0"/>
<rect x="33.00" y="1931.50" width="5.00" height="2.90" fill="#0d7ac0"/>
<rect x="39.00" y="1931.50" width="5.00" height="2.90" fill="#0d7ac0"/>
<rect x="46.00" y="1931.50" width="5.00" height="2.90" fill="#0d7ac0"/>
<rect x="52.00" y="1931.50" width="5.00" height="2.90" fill="#0d7ac0"/>
<rect x="59.00" y="1931.50" width="5.00" height="2.90" fill="#0d7ac0"/>
<rect x="66.00" y="1931.50" width="5.00" height="2.90" fill="#0d7ac0"/>
<rect x="72.00" y="1931.50" width="5.00" height="2.90" fill="#0d7ac0"/>
<rect x="79.00" y="1931.50" width="5.00" height="2.90" fill="#0d7ac0"/>
<rect x="85.00" y="1931.50" width="5.00" height="2.90" fill="#0d7ac0"/>
<rect x="92.00" y="1931.50" width="5.00" height="2.90" fill="#0d7ac0"/>
<rect x="98.00" y="1931.50" width="5.00" height="2.90" fill="#0d7ac0"/>
<rect x="105.00" y="1931.50" width="5.00" height="2.90" fill="#0d7ac0"/>
<rect x="112.00" y="1931.50" width="5.00" height="2.90" fill="#0d7ac0"/>
<rect x="118.00" y="1931.50" width="5.00" height="2.90" fill="#0d7ac0"/>
<rect x="125.00" y="1931.50" width="5.00" height="2.90" fill="#0d7ac0"/>
<rect x="131.00" y="1931.50" width="5.00" height="2.90" fill="#0d7ac0"/>
<rect x="138.00" y="1931.50" width="5.00" height="2.90" fill="#0d7ac0"/>
<rect x="144.00" y="1931.50" width="5.00" height="2.90" fill="#0d7ac0"/>
<rect x="151.00" y="1931.50" width="5.00" height="2.90" fill="#0d7ac0"/>
<rect x="157.00" y="1931.50" width="5.00" height="2.90" fill="#0d7ac0"/>
<rect x="164.00" y="1931.50" width="5.00" height="2.90" fill="#0d7ac0"/>
<rect x="171.00" y="1931.50" width="5.00" height="2.90" fill="#0d7ac0"/>
<rect x="177.00" y="1931.50" width="5.00" height="2.90" fill="#0d7ac0"/>
<rect x="184.00" y="1931.50" width="5.00" height="2.90" fill="#0d7ac0"/>
<rect x="190.00" y="1931.50" width="5.00" height="2.90" fill="#0d7ac0"/>
<rect x="197.00" y="1931.50" width="5.00" height="2.90" fill="#0d7ac0"/>
<rect x="203.00" y="1931.50" width="5.00" height="2.90" fill="#0d7ac0"/>
<rect x="210.00" y="1931.50" width="5.00" height="2.90" fill="#0d7ac0"/>
<rect x="217.00" y="1931.50" width="5.00" height="2.90" fill="#0d7ac0"/>
<rect x="223.00" y="1931.50" width="5.00" height="2.90" fill="#0d7ac0"/>
<rect x="230.00" y="1931.50" width="5.00" height="2.90" fill="#0d7ac0"/>
<rect x="236.00" y="1931.50" width="5.00" height="2.90" fill="#0d7ac0"/>
<rect x="243.00" y="1931.50" width="5.00" height="2.90" fill="#0d7ac0"/>
<rect x="249.00" y="1931.50" width="5.00" height="2.90" fill="#0d7ac0"/>
<rect x="256.00" y="1931.50" width="5.00" height="2.90" fill="#0d7ac0"/>
<rect x="262.00" y="1931.50" width="5.00" height="2.90" fill="#0d7ac0"/>
<rect x="269.00" y="1931.50" width="5.00" height="2.90" fill="#0d7ac0"/>
<rect x="276.00" y="1931.50" width="5.00" height="2.90" fill="#0d7ac0"/>
<rect x="282.00" y="1931.50" width="5.00" height="2.90" fill="#0d7ac0"/>
<rect x="289.00" y="1931.50" width="5.00" height="2.90" fill="#0d7ac0"/>
<rect x="295.00" y="1931.50" width="5.00" height="2.90" fill="#0d7ac0"/>
<rect x="302.00" y="1931.50" width="5.00" height="2.90" fill="#0d7ac0"/>
<rect x="308.00" y="1931.50" width="5.00" height="2.90" fill="#0d7ac0"/>
<rect x="315.00" y="1931.50" width="5.00" height="2.90" fill="#0d7ac0"/>
<rect x="322.00" y="1931.50" width="5.00" height="2.90" fill="#0d7ac0"/>
<rect x="328.00" y="1931.50" width="5.00" height="2.90" fill="#0d7ac0"/>
<rect x="335.00" y="1931.50" width="5.00" height="2.90" fill="#0d7ac0"/>
<rect x="341.00" y="1931.50" width="5.00" height="2.90" fill="#0d7ac0"/>
<rect x="348.00" y="1931.50" width="5.00" height="2.90" fill="#0d7ac0"/>
<rect x="354.00" y="1931.50" width="5.00" height="2.90" fill="#0d7ac0"/>
<rect x="361.00" y="1931.50" width="5.00" height="2.90" fill="#0d7ac0"/>
<rect x="368.00" y="1931.50" width="5.00" height="2.90" fill="#0d7ac0"/>
<rect x="374.00" y="1931.50" width="5.00" height="2.90" fill="#0d7ac0"/>
<rect x="381.00" y="1931.50" width="5.00" height="2.90" fill="#0d7ac0"/>
<rect x="387.00" y="1931.50" width="5.00" height="2.90" fill="#0d7ac0"/>
<rect x="394.00" y="1931.50" width="5.00" height="2.90" fill="#0d7ac0"/>
<rect x="400.00" y="1931.50" width="5.00" height="2.90" fill="#0d7ac0"/>
<rect x="407.00" y="1931.50" width="5.00" height="2.90" fill="#0d7ac0"/>
<rect x="413.00" y="1931.50" width="5.00" height="2.90" fill="#0d7ac0"/>
<rect x="420.00" y="1931.50" width="5.00" height="2.90" fill="#0d7ac0"/>
<rect x="427.00" y="1931.50" width="5.00" height="2.90" fill="#0d7ac0"/>
<rect x="433.00" y="1931.50" width="5.00" height="2.90" fill="#0d7ac0"/>
<rect x="440.00" y="1931.50" width="5.00" height="2.90" fill="#0d7ac0"/>
<rect x="446.00" y="1931.50" width="5.00" height="2.90" fill="#0d7ac0"/>
<rect x="453.00" y="1931.50" width="5.00" height="2.90" fill="#0d7ac0"/>
<rect x="459.00" y="1931.50" width="5.00" height="2.90" fill="#0d7ac0"/>
<rect x="466.00" y="1931.50" width="5.00" height="2.90" fill="#0d7ac0"/>
<rect x="473.00" y="1931.50" width="5.00" height="2.90" fill="#0d7ac0"/>
<rect x="479.00" y="1931.50" width="5.00" height="2.90" fill="#0d7ac0"/>
<rect x="486.00" y="1931.50" width="5.00" height="2.90" fill="#0d7ac0"/>
<rect x="492.00" y="1931.50" width="5.00" height="2.90" fill="#0d7ac0"/>
<rect x="499.00" y="1931.50" width="5.00" height="2.90" fill="#0d7ac0"/>
<rect x="505.00" y="1931.50" width="5.00" height="2.90" fill="#0d7ac0"/>
<rect x="512.00" y="1931.50" width="5.00" height="2.90" fill="#0d7ac0"/>
<rect x="519.00" y="1931.50" width="5.00" height="2.90" fill="#0d7ac0"/>
<rect x="525.00" y="1931.50" width="5.00" height="2.90" fill="#0d7ac0"/>
<rect x="532.00" y="1931.50" width="5.00" height="2.90" fill="#0d7ac0"/>
<rect x="538.00" y="1931.50" width="5.00" height="2.90" fill="#0d7ac0"/>
<rect x="545.00" y="1931.50" width="5.00" height="2.90" fill="#0d7ac0"/>
<rect x="551.00" y="1931.50" width="5.00" height="2.90" fill="#0d7ac0"/>
<rect x="558.00" y="1931.50" width="5.00" height="2.90" fill="#0d7ac0"/>
<rect x="564.00" y="1931.50" width="5.00" height="2.90" fill="#0d7ac0"/>
<rect x="571.00" y="1931.50" width="5.00" height="2.90" fill="#0d7ac0"/>
<rect x="578.00" y="1931.50" width="5.00" height="2.90" fill="#0d7ac0"/>
<rect x="584.00" y="1931.50" width="5.00" height="2.90" fill="#0d7ac0"/>
<rect x="591.00" y="1931.50" width="5.00" height="2.90" fill="#0d7ac0"/>
<rect x="597.00" y="1931.50" width="5.00" height="2.90" fill="#0d7ac0"/>
<rect x="604.00" y="1931.50" width="5.00" height="2.90" fill="#0d7ac0"/>
<rect x="610.00" y="1931.50" width="5.00" height="2.90" fill="#0d7ac0"/>
<rect x="617.00" y="1931.50" width="5.00" height="2.90" fill="#0d7ac0"/>
<rect x="624.00" y="1931.50" width="5.00" height="2.90" fill="#0d7ac0"/>
<rect x="630.00" y="1931.50" width="5.00" height="2.90" fill="#0d7ac0"/>
<rect x="637.00" y="1931.50" width="5.00" height="2.90" fill="#0d7ac0"/>
<rect x="643.00" y="1931.50" width="5.00" height="2.90" fill="#0d7ac0"/>
<rect x="650.00" y="1931.50" width="5.00" height="2.90" fill="#0d7ac0"/>
<rect x="656.00" y="1931.50" width="5.00" height="2.90" fill="#0d7ac0"/>
<rect x="663.00" y="1931.50" width="5.00" height="2.90" fill="#0d7ac0"/>
<rect x="669.00" y="1931.50" width="5.00" height="2.90" fill="#0d7ac0"/>
<rect x="676.00" y="1931.50" width="5.00" height="2.90" fill="#0d7ac0"/>
<rect x="683.00" y="1931.50" width="5.00" height="2.90" fill="#0d7ac0"/>
<rect x="689.00" y="1931.50" width="5.00" height="2.90" fill="#0d7ac0"/>
<rect x="696.00" y="1931.50" width="5.00" height="2.90" fill="#0d7ac0"/>
<rect x="702.00" y="1931.50" width="5.00" height="2.90" fill="#0d7ac0"/>
<rect x="709.00" y="1931.50" width="5.00" height="2.90" fill="#0d7ac0"/>
<rect x="715.00" y="1931.50" width="5.00" height="2.90" fill="#0d7ac0"/>
<rect x="722.00" y="1931.50" width="5.00" height="2.90" fill="#0d7ac0"/>
<rect x="729.00" y="1931.50" width="5.00" height="2.90" fill="#0d7ac0"/>
<rect x="735.00" y="1931.50" width="5.00" height="2.90" fill="#0d7ac0"/>
<rect x="742.00" y="1931.50" width="5.00" height="2.90" fill="#0d7ac0"/>
<rect x="748.00" y="1931.50" width="5.00" height="2.90" fill="#0d7ac0"/>
<rect x="755.00" y="1931.50" width="5.00" height="2.90" fill="#0d7ac0"/>
<rect x="761.00" y="1931.50" width="5.00" height="2.90" fill="#0d7ac0"/>
<rect x="768.00" y="1931.50" width="5.00" height="2.90" fill="#0d7ac0"/>
<rect x="775.00" y="1931.50" width="5.00" height="2.90" fill="#0d7ac0"/>
<rect x="781.00" y="1931.50" width="5.00" height="2.90" fill="#0d7ac0"/>
<rect x="788.00" y="1931.50" width="5.00" height="2.90" fill="#0d7ac0"/>
<rect x="794.00" y="1931.50" width="5.00" height="2.90" fill="#0d7ac0"/>
<rect x="801.00" y="1931.50" width="5.00" height="2.90" fill="#0d7ac0"/>
<rect x="807.00" y="1931.50" width="5.00" height="2.90" fill="#0d7ac0"/>
<rect x="814.00" y="1931.50" width="5.00" height="2.90" fill="#0d7ac0"/>
<rect x="820.00" y="1931.50" width="5.00" height="2.90" fill="#0d7ac0"/>
<rect x="827.00" y="1931.50" width="5.00" height="2.90" fill="#0d7ac0"/>
<rect x="834.00" y="1931.50" width="5.00" height="2.90" fill="#0d7ac0"/>
<rect x="840.00" y="1931.50" width="5.00" height="2.90" fill="#0d7ac0"/>
<rect x="847.00" y="1931.50" width="5.00" height="2.90" fill="#0d7ac0"/>
<rect x="853.00" y="1931.50" width="5.00" height="2.90" fill="#0d7ac0"/>
<rect x="860.00" y="1931.50" width="5.00" height="2.90" fill="#0d7ac0"/>
<rect x="866.00" y="1931.50" width="5.00" height="2.90" fill="#0d7ac0"/>
<rect x="873.00" y="1931.50" width="5.00" height="2.90" fill="#0d7ac0"/>
<rect x="880.00" y="1931.50" width="5.00" height="2.90" fill="#0d7ac0"/>
<rect x="886.00" y="1931.50" width="5.00" height="2.90" fill="#0d7ac0"/>
<rect x="893.00" y="1931.50" width="5.00" height="2.90" fill="#0d7ac0"/>
<rect x="899.00" y="1931.50" width="5.00" height="2.90" fill="#0d7ac0"/>
<rect x="906.00" y="1931.50" width="5.00" height="2.90" fill="#0d7ac0"/>
<rect x="912.00" y="1931.50" width="5.00" height="2.90" fill="#0d7ac0"/>
<rect x="919.00" y="1931.50" width="5.00" height="2.90" fill="#0d7ac0"/>
<rect x="926.00" y="1931.50" width="5.00" height="2.90" fill="#0d7ac0"/>
<rect x="932.00" y="1931.50" width="5.00" height="2.90" fill="#0d7ac0"/>
<rect x="939.00" y="1931.50" width="5.00" height="2.90" fill="#0d7ac0"/>
<rect x="945.00" y="1931.50" width="5.00" height="2.90" fill="#0d7ac0"/>
<rect x="952.00" y="1931.50" width="5.00" height="2.90" fill="#0d7ac0"/>
<rect x="958.00" y="1931.50" width="5.00" height="2.90" fill="#0d7ac0"/>
<rect x="965.00" y="1931.50" width="5.00" height="2.90" fill="#0d7ac0"/>
<rect x="971.00" y="1931.50" width="5.00" height="2.90" fill="#0d7ac0"/>
<rect x="978.00" y="1931.50" width="5.00" height="2.90" fill="#0d7ac0"/>
<rect x="985.00" y="1931.50" width="5.00" height="2.90" fill="#0d7ac0"/>
<rect x="991.00" y="1931.50" width="5.00" height="2.90" fill="#0d7ac0"/>
<rect x="998.00" y="1931.50" width="5.00" height="2.90" fill="#0d7ac0"/>
<rect x="1004.00" y="1931.50" width="5.00" height="2.90" fill="#0d7ac0"/>
<rect x="1011.00" y="1931.50" width="5.00" height="2.90" fill="#0d7ac0"/>
<rect x="1017.00" y="1931.50" width="5.00" height="2.90" fill="#0d7ac0"/>
<rect x="1024.00" y="1931.50" width="5.00" height="2.90" fill="#0d7ac0"/>
<rect x="1031.00" y="1931.50" width="5.00" height="2.90" fill="#0d7ac0"/>
<rect x="1037.00" y="1931.50" width="5.00" height="2.90" fill="#0d7ac0"/>
<rect x="1044.00" y="1931.50" width="5.00" height="2.90" fill="#0d7ac0"/>
<rect x="1050.00" y="1931.50" width="5.00" height="2.90" fill="#0d7ac0"/>
<rect x="1057.00" y="1931.50" width="5.00" height="2.90" fill="#0d7ac0"/>
<rect x="1063.00" y="1931.50" width="5.00" height="2.90" fill="#0d7ac0"/>
<rect x="1070.00" y="1931.50" width="5.00" height="2.90" fill="#0d7ac0"/>
<rect x="1076.00" y="1931.50" width="5.00" height="2.90" fill="#0d7ac0"/>
<rect x="1083.00" y="1931.50" width="5.00" height="2.90" fill="#0d7ac0"/>
<rect x="1090.00" y="1931.50" width="5.00" height="2.90" fill="#0d7ac0"/>
<rect x="1096.00" y="1931.50" width="5.00" height="2.90" fill="#0d7ac0"/>
<rect x="1103.00" y="1931.50" width="5.00" height="2.90" fill="#0d7ac0"/>
<rect x="1109.00" y="1931.50" width="5.00" height="2.90" fill="#0d7ac0"/>
<rect x="1116.00" y="1931.50" width="5.00" height="2.90" fill="#0d7ac0"/>
<rect x="1122.00" y="1931.50" width="5.00" height="2.90" fill="#0d7ac0"/>
<rect x="1129.00" y="1931.50" width="5.00" height="2.90" fill="#0d7ac0"/>
<rect x="1136.00" y="1931.50" width="5.00" height="2.90" fill="#0d7ac0"/>
<rect x="1142.00" y="1931.50" width="5.00" height="2.90" fill="#0d7ac0"/>
<rect x="1149.00" y="1931.50" width="5.00" height="2.90" fill="#0d7ac0"/>
<rect x="1155.00" y="1931.50" width="5.00" height="2.90" fill="#0d7ac0"/>
<rect x="1162.00" y="1931.50" width="5.00" height="2.90" fill="#0d7ac0"/>
<rect x="1168.00" y="1931.50" width="5.00" height="2.90" fill="#0d7ac0"/>
<rect x="1175.00" y="1931.50" width="5.00" height="2.90" fill="#0d7ac0"/>
<rect x="1182.00" y="1931.50" width="5.00" height="2.90" fill="#0d7ac0"/>
<rect x="1188.00" y="1931.50" width="5.00" height="2.90" fill="#0d7ac0"/>
<rect x="1195.00" y="1931.50" width="5.00" height="2.90" fill="#0d7ac0"/>
<rect x="1201.00" y="1931.50" width="5.00" height="2.90" fill="#0d7ac0"/>
<rect x="1208.00" y="1931.50" width="5.00" height="2.90" fill="#0d7ac0"/>
<rect x="1214.00" y="1931.50" width="5.00" height="2.90" fill="#0d7ac0"/>
<rect x="1221.00" y="1931.50" width="5.00" height="2.90" fill="#0d7ac0"/>
<rect x="1227.00" y="1931.50" width="5.00" height="2.90" fill="#0d7ac0"/>
<rect x="1234.00" y="1931.50" width="5.00" height="2.90" fill="#0d7ac0"/>
<rect x="1241.00" y="1931.50" width="5.00" height="2.90" fill="#0d7ac0"/>
<rect x="1247.00" y="1931.50" width="5.00" height="2.90" fill="#0d7ac0"/>
<rect x="1254.00" y="1931.50" width="5.00" height="2.90" fill="#0d7ac0"/>
<rect x="1260.00" y="1931.50" width="5.00" height="2.90" fill="#0d7ac0"/>
<rect x="1267.00" y="1931.50" width="5.00" height="2.90" fill="#0d7ac0"/>
<rect x="1273.00" y="1931.50" width="5.00" height="2.90" fill="#0d7ac0"/>
<rect x="1280.00" y="1931.50" width="5.00" height="2.90" fill="#0d7ac0"/>
<rect x="1287.00" y="1931.50" width="5.00" height="2.90" fill="#0d7ac0"/>
<rect x="1293.00" y="1931.50" width="5.00" height="2.90" fill="#0d7ac0"/>
<rect x="1300.00" y="1931.50" width="5.00" height="2.90" fill="#0d7ac0"/>
<rect x="1306.00" y="1931.50" width="5.00" height="2.90" fill="#0d7ac0"/>
<rect x="1313.00" y="1931.50" width="5.00" height="2.90" fill="#0d7ac0"/>
<rect x="1319.00" y="1931.50" width="5.00" height="2.90" fill="#0d7ac0"/>
<rect x="1326.00" y="1931.50" width="5.00" height="2.90" fill="#0d7ac0"/>
<rect x="1333.00" y="1931.50" width="5.00" height="2.90" fill="#0d7ac0"/>
<rect x="1339.00" y="1931.50" width="5.00" height="2.90" fill="#0d7ac0"/>
<rect x="1346.00" y="1931.50" width="5.00" height="2.90" fill="#0d7ac0"/>
<rect x="1352.00" y="1931.50" width="5.00" height="2.90" fill="#0d7ac0"/>
<rect x="1359.00" y="1931.50" width="5.00" height="2.90" fill="#0d7ac0"/>
<rect x="1365.00" y="1931.50" width="5.00" height="2.90" fill="#0d7ac0"/>
<rect x="1372.00" y="1931.50" width="5.00" height="2.90" fill="#0d7ac0"/>
<rect x="1378.00" y="1925.20" width="5.00" height="9.20" fill="#0d7ac0"/>
<rect x="1385.00" y="1886.90" width="5.00" height="47.50" fill="#0d7ac0"/>
<rect x="1392.00" y="1923.20" width="5.00" height="11.20" fill="#0d7ac0"/>
<rect x="1398.00" y="1927.20" width="5.00" height="7.20" fill="#0d7ac0"/>
<rect x="1405.00" y="1929.20" width="5.00" height="5.20" fill="#0d7ac0"/>
<rect x="1411.00" y="1931.20" width="5.00" height="3.20" fill="#0d7ac0"/>
<rect x="1418.00" y="1930.20" width="5.00" height="4.20" fill="#0d7ac0"/>
<rect x="1424.00" y="1931.50" width="5.00" height="2.90" fill="#0d7ac0"/>
<rect x="1431.00" y="1931.50" width="5.00" height="2.90" fill="#0d7ac0"/>
<rect x="1438.00" y="1931.50" width="5.00" height="2.90" fill="#0d7ac0"/>
<rect x="1444.00" y="1931.50" width="5.00" height="2.90" fill="#0d7ac0"/>
<rect x="1451.00" y="1931.50" width="5.00" height="2.90" fill="#0d7ac0"/>
<rect x="1493.70" y="1861.00" width="3.00" height="1.00" fill="#222"/>
<rect x="1493.70" y="1837.00" width="3.00" height="1.00" fill="#222"/>
<rect x="1493.70" y="1814.00" width="3.00" height="1.00" fill="#222"/>
<rect x="1493.70" y="1790.00" width="3.00" height="1.00" fill="#222"/>
<rect x="1493.70" y="1767.00" width="5.50" height="1.00" fill="#222"/>
<text class="t" x="1502.4" y="1771.5" fill="#262626" font-size="12.3" textLength="27.0" lengthAdjust="spacingAndGlyphs">2250</text>
<rect x="1493.70" y="1744.00" width="3.00" height="1.00" fill="#222"/>
<rect x="1493.70" y="1720.00" width="3.00" height="1.00" fill="#222"/>
<rect x="1493.70" y="1697.00" width="3.00" height="1.00" fill="#222"/>
<rect x="1493.70" y="1673.00" width="3.00" height="1.00" fill="#222"/>
<rect x="1493.70" y="1650.00" width="5.50" height="1.00" fill="#222"/>
<text class="t" x="1502.4" y="1654.2" fill="#262626" font-size="12.3" textLength="27.0" lengthAdjust="spacingAndGlyphs">2300</text>
<rect x="1493.70" y="1626.00" width="3.00" height="1.00" fill="#222"/>
<rect x="1493.70" y="1603.00" width="3.00" height="1.00" fill="#222"/>
<rect x="1493.70" y="1579.00" width="3.00" height="1.00" fill="#222"/>
<rect x="1493.70" y="1556.00" width="3.00" height="1.00" fill="#222"/>
<rect x="1493.70" y="1533.00" width="5.50" height="1.00" fill="#222"/>
<text class="t" x="1502.4" y="1537.0" fill="#262626" font-size="12.3" textLength="27.0" lengthAdjust="spacingAndGlyphs">2350</text>
<rect x="1493.70" y="1509.00" width="3.00" height="1.00" fill="#222"/>
<rect x="1493.70" y="1486.00" width="3.00" height="1.00" fill="#222"/>
<rect x="1493.70" y="1462.00" width="3.00" height="1.00" fill="#222"/>
<rect x="1493.70" y="1439.00" width="3.00" height="1.00" fill="#222"/>
<rect x="1493.70" y="1415.00" width="5.50" height="1.00" fill="#222"/>
<text class="t" x="1502.4" y="1419.7" fill="#262626" font-size="12.3" textLength="27.0" lengthAdjust="spacingAndGlyphs">2400</text>
<rect x="1493.70" y="1392.00" width="3.00" height="1.00" fill="#222"/>
<rect x="1493.70" y="1368.00" width="3.00" height="1.00" fill="#222"/>
<rect x="1493.70" y="1345.00" width="3.00" height="1.00" fill="#222"/>
<rect x="1493.70" y="1322.00" width="3.00" height="1.00" fill="#222"/>
<rect x="1493.70" y="1298.00" width="5.50" height="1.00" fill="#222"/>
<text class="t" x="1502.4" y="1302.5" fill="#262626" font-size="12.3" textLength="27.0" lengthAdjust="spacingAndGlyphs">2450</text>
<rect x="1493.70" y="1275.00" width="3.00" height="1.00" fill="#222"/>
<rect x="1493.70" y="1251.00" width="3.00" height="1.00" fill="#222"/>
<rect x="1493.70" y="1228.00" width="3.00" height="1.00" fill="#222"/>
<rect x="1493.70" y="1204.00" width="3.00" height="1.00" fill="#222"/>
<rect x="1493.70" y="1181.00" width="5.50" height="1.00" fill="#222"/>
<text class="t" x="1502.4" y="1185.2" fill="#262626" font-size="12.3" textLength="27.0" lengthAdjust="spacingAndGlyphs">2500</text>
<rect x="1493.70" y="1157.00" width="3.00" height="1.00" fill="#222"/>
<rect x="1493.70" y="1134.00" width="3.00" height="1.00" fill="#222"/>
<rect x="1493.70" y="1110.00" width="3.00" height="1.00" fill="#222"/>
<rect x="1493.70" y="1087.00" width="3.00" height="1.00" fill="#222"/>
<rect x="1493.70" y="1064.00" width="5.50" height="1.00" fill="#222"/>
<text class="t" x="1502.4" y="1068.0" fill="#262626" font-size="12.3" textLength="27.0" lengthAdjust="spacingAndGlyphs">2550</text>
<rect x="1493.70" y="1040.00" width="3.00" height="1.00" fill="#222"/>
<rect x="1493.70" y="1017.00" width="3.00" height="1.00" fill="#222"/>
<rect x="1493.70" y="1934.00" width="5.50" height="1.00" fill="#222"/>
<text class="t" x="1502.4" y="1938.8" fill="#262626" font-size="12.3" textLength="6.8" lengthAdjust="spacingAndGlyphs">0</text>
<rect x="1493.70" y="1892.00" width="5.50" height="1.00" fill="#222"/>
<text class="t" x="1502.4" y="1896.7" fill="#262626" font-size="12.3" textLength="47.9" lengthAdjust="spacingAndGlyphs">2000000</text>
<rect x="1493.70" y="1912.90" width="3.00" height="1.00" fill="#222"/>
<rect x="1493.70" y="1870.90" width="3.00" height="1.00" fill="#222"/>
<rect x="1482.7" y="998.5" width="8" height="8" fill="#fff" stroke="#888" stroke-width=".8"/><rect x="1484.7" y="1000.5" width="4" height="4" fill="none" stroke="#000" stroke-width="1.3"/>
<rect x="1472.5" y="1869.5" width="8" height="8" fill="#fff" stroke="#777" stroke-width=".8"/><path class="e" d="M1474.0 1873.5h5.5" stroke="#111" stroke-width="1"/>
<rect x="1482.5" y="1869.5" width="8" height="8" fill="#fff" stroke="#777" stroke-width=".8"/><path d="M1484.1 1871.1l5 5M1489.1 1871.1l-5 5" stroke="#111" stroke-width="1"/>
<text class="t" x="11.1" y="1011.0" fill="#222" textLength="57.2" lengthAdjust="spacingAndGlyphs">보락(15분)</text>
<text class="t" x="73.0" y="1011.0" fill="#222" textLength="64.2" lengthAdjust="spacingAndGlyphs">2019/04/10</text>
<text class="t" x="143.6" y="1011.0" fill="#222" textLength="29.4" lengthAdjust="spacingAndGlyphs">15:45</text>
<text class="t" x="187.4" y="1011.0" fill="#222">종</text>
<text class="t" x="202.3" y="1011.0" fill="#222" textLength="30.2" lengthAdjust="spacingAndGlyphs">2,415</text>
<text class="t" x="238.0" y="1011.0" fill="#d02020" textLength="21.0" lengthAdjust="spacingAndGlyphs">+20</text>
<text class="t" x="272.5" y="1011.0" fill="#222">시</text>
<text class="t" x="286.8" y="1011.0" fill="#222" textLength="30.2" lengthAdjust="spacingAndGlyphs">2,415</text>
<text class="t" x="322.4" y="1011.0" fill="#222">고</text>
<text class="t" x="337.4" y="1011.0" fill="#222" textLength="30.2" lengthAdjust="spacingAndGlyphs">2,415</text>
<text class="t" x="372.3" y="1011.0" fill="#222">저</text>
<text class="t" x="388.0" y="1011.0" fill="#222" textLength="30.6" lengthAdjust="spacingAndGlyphs">2,415</text>
<text class="t" x="11.0" y="1882.0" fill="#222" textLength="35.0" lengthAdjust="spacingAndGlyphs">거래량</text>
<text class="t" x="55.6" y="1882.0" fill="#222" textLength="64.4" lengthAdjust="spacingAndGlyphs">2019/04/10</text>
<text class="t" x="125.5" y="1882.0" fill="#222" textLength="29.5" lengthAdjust="spacingAndGlyphs">15:45</text>
<text class="t" x="160.4" y="1882.0" fill="#3a8cc4" textLength="37.2" lengthAdjust="spacingAndGlyphs">41,528</text>
<rect x="41.00" y="1940.00" width="1.00" height="5.00" fill="#222"/>
<text class="t" x="41.5" y="1959.5" fill="#222" font-size="12.3" font-weight="bold" text-anchor="middle">A</text>
<rect x="120.00" y="1940.00" width="1.00" height="5.00" fill="#222"/>
<text class="t" x="120.5" y="1959.5" fill="#3a3a3a" font-size="12.3" text-anchor="middle">12:15</text>
<rect x="199.00" y="1940.00" width="1.00" height="5.00" fill="#222"/>
<rect x="219.00" y="1940.00" width="1.00" height="5.00" fill="#222"/>
<text class="t" x="219.5" y="1959.5" fill="#222" font-size="12.3" font-weight="bold" text-anchor="middle" textLength="33.5" lengthAdjust="spacingAndGlyphs">04/02</text>
<rect x="297.00" y="1940.00" width="1.00" height="5.00" fill="#222"/>
<text class="t" x="297.5" y="1959.5" fill="#3a3a3a" font-size="12.3" text-anchor="middle">12:15</text>
<rect x="376.00" y="1940.00" width="1.00" height="5.00" fill="#222"/>
<rect x="396.00" y="1940.00" width="1.00" height="5.00" fill="#222"/>
<text class="t" x="396.5" y="1959.5" fill="#222" font-size="12.3" font-weight="bold" text-anchor="middle">03</text>
<rect x="475.00" y="1940.00" width="1.00" height="5.00" fill="#222"/>
<text class="t" x="475.5" y="1959.5" fill="#3a3a3a" font-size="12.3" text-anchor="middle">12:15</text>
<rect x="553.00" y="1940.00" width="1.00" height="5.00" fill="#222"/>
<rect x="573.00" y="1940.00" width="1.00" height="5.00" fill="#222"/>
<text class="t" x="573.5" y="1959.5" fill="#222" font-size="12.3" font-weight="bold" text-anchor="middle">04</text>
<rect x="652.00" y="1940.00" width="1.00" height="5.00" fill="#222"/>
<text class="t" x="652.5" y="1959.5" fill="#3a3a3a" font-size="12.3" text-anchor="middle">12:15</text>
<rect x="731.00" y="1940.00" width="1.00" height="5.00" fill="#222"/>
<rect x="750.00" y="1940.00" width="1.00" height="5.00" fill="#222"/>
<text class="t" x="750.5" y="1959.5" fill="#222" font-size="12.3" font-weight="bold" text-anchor="middle">05</text>
<rect x="829.00" y="1940.00" width="1.00" height="5.00" fill="#222"/>
<text class="t" x="829.5" y="1959.5" fill="#3a3a3a" font-size="12.3" text-anchor="middle">12:15</text>
<rect x="908.00" y="1940.00" width="1.00" height="5.00" fill="#222"/>
<rect x="928.00" y="1940.00" width="1.00" height="5.00" fill="#222"/>
<text class="t" x="928.5" y="1959.5" fill="#222" font-size="12.3" font-weight="bold" text-anchor="middle">08</text>
<rect x="1006.00" y="1940.00" width="1.00" height="5.00" fill="#222"/>
<text class="t" x="1006.5" y="1959.5" fill="#3a3a3a" font-size="12.3" text-anchor="middle">12:15</text>
<rect x="1085.00" y="1940.00" width="1.00" height="5.00" fill="#222"/>
<rect x="1105.00" y="1940.00" width="1.00" height="5.00" fill="#222"/>
<text class="t" x="1105.5" y="1959.5" fill="#222" font-size="12.3" font-weight="bold" text-anchor="middle">09</text>
<rect x="1184.00" y="1940.00" width="1.00" height="5.00" fill="#222"/>
<text class="t" x="1184.5" y="1959.5" fill="#3a3a3a" font-size="12.3" text-anchor="middle">12:15</text>
<rect x="1262.00" y="1940.00" width="1.00" height="5.00" fill="#222"/>
<rect x="1282.00" y="1940.00" width="1.00" height="5.00" fill="#222"/>
<text class="t" x="1282.5" y="1959.5" fill="#222" font-size="12.3" font-weight="bold" text-anchor="middle">10</text>
<rect x="1361.00" y="1940.00" width="1.00" height="5.00" fill="#222"/>
<text class="t" x="1361.5" y="1959.5" fill="#3a3a3a" font-size="12.3" text-anchor="middle">12:15</text>
<rect x="1440.00" y="1940.00" width="1.00" height="5.00" fill="#222"/>
<text class="t" x="1440.5" y="1959.5" fill="#3a3a3a" font-size="12.3" text-anchor="middle">15:15</text>
<rect x="15.00" y="1940.00" width="1.00" height="5.00" fill="#222"/>
<clipPath id="cl"><rect x="10" y="1945" width="40" height="20"/></clipPath>
<text class="t" x="15.9" y="1959.5" fill="#3a3a3a" font-size="12.3" text-anchor="middle" clip-path="url(#cl)">15:00</text>
<text class="t" x="1545.0" y="1959.5" fill="#3a3a3a" font-size="12.3" text-anchor="middle">15:45</text>
<rect x="1493.7" y="1946.5" width="14" height="14" fill="#f4f4f4" stroke="#555" stroke-width="1"/><circle cx="1499.3" cy="1952.1" r="2.6" fill="none" stroke="#111" stroke-width="1.6"/><path d="M1501.5 1954.3l3.4 3.4" stroke="#111" stroke-width="2.2" stroke-linecap="round"/>
<rect x="9.80" y="1965.30" width="1564.20" height="2.00" fill="#c2c2c2"/>
<rect x="283.00" y="1965.30" width="7.00" height="2.00" fill="#555"/>
<rect x="398.00" y="1965.30" width="5.00" height="2.00" fill="#666"/>
<rect x="1330.00" y="1965.30" width="30.00" height="2.00" fill="#888"/>
<rect x="1420.00" y="1965.30" width="50.00" height="2.00" fill="#888"/>
</svg>
</body></html>
